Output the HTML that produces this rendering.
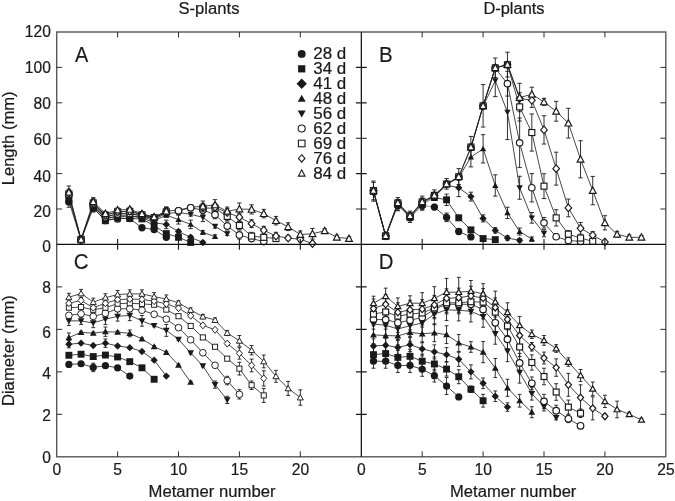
<!DOCTYPE html>
<html><head><meta charset="utf-8"><title>Metamer length and diameter</title>
<style>html,body{margin:0;padding:0;background:#fff}body{width:675px;height:501px;overflow:hidden;font-family:"Liberation Sans",sans-serif}svg{display:block;will-change:transform}</style>
</head><body>
<svg width="675" height="501" viewBox="0 0 675 501">
<rect width="675" height="501" fill="#fff"/>
<defs><clipPath id="cA"><rect x="56.7" y="32.0" width="609.1" height="427.8"/></clipPath></defs>
<g clip-path="url(#cA)">
<polyline fill="none" stroke="#1a1a1a" stroke-width="0.8" points="93.24,207.94 105.42,220.68 117.60,218.20 129.78,218.56 141.96,227.76 154.14,229.53 166.32,237.32"/>
<polyline fill="none" stroke="#1a1a1a" stroke-width="0.45" points="68.88,201.92 81.06,239.97 93.24,207.94"/>
<polyline fill="none" stroke="#1a1a1a" stroke-width="0.8" points="93.24,207.94 105.42,220.68 117.60,218.20 129.78,218.56 141.96,218.91 154.14,225.81 166.32,233.60 178.50,237.32 190.68,242.45"/>
<polyline fill="none" stroke="#1a1a1a" stroke-width="0.45" points="68.88,200.15 81.06,239.97 93.24,207.94"/>
<polyline fill="none" stroke="#1a1a1a" stroke-width="0.8" points="93.24,206.17 105.42,218.74 117.60,216.08 129.78,216.08 141.96,217.85 154.14,222.81 166.32,224.40 178.50,231.48 190.68,237.32 202.86,242.45"/>
<polyline fill="none" stroke="#1a1a1a" stroke-width="0.45" points="68.88,198.38 81.06,239.80 93.24,206.17"/>
<polyline fill="none" stroke="#1a1a1a" stroke-width="0.8" points="93.24,206.17 105.42,218.74 117.60,216.08 129.78,216.08 141.96,216.97 154.14,220.50 166.32,215.19 178.50,219.62 190.68,224.40 202.86,232.36 215.04,236.61"/>
<polyline fill="none" stroke="#1a1a1a" stroke-width="0.45" points="68.88,196.61 81.06,239.80 93.24,206.17"/>
<polyline fill="none" stroke="#1a1a1a" stroke-width="0.8" points="93.24,204.57 105.42,216.97 117.60,213.96 129.78,213.60 141.96,216.08 154.14,219.09 166.32,213.43 178.50,212.54 190.68,214.31 202.86,217.32 215.04,226.35 227.22,233.78"/>
<polyline fill="none" stroke="#1a1a1a" stroke-width="0.45" points="68.88,195.73 81.06,239.62 93.24,204.57"/>
<polyline fill="none" stroke="#1a1a1a" stroke-width="0.8" points="93.24,204.57 105.42,216.97 117.60,213.96 129.78,213.60 141.96,215.55 154.14,218.20 166.32,212.19"/>
<polyline fill="none" stroke="#1a1a1a" stroke-width="0.8" points="178.50,210.77 190.68,207.76 202.86,210.06 215.04,214.66 227.22,225.99 239.40,235.02 251.58,238.56 263.76,241.57"/>
<polyline fill="none" stroke="#1a1a1a" stroke-width="0.45" points="68.88,194.84 81.06,239.62 93.24,204.57"/>
<polyline fill="none" stroke="#1a1a1a" stroke-width="0.8" points="93.24,202.98 105.42,215.19 117.60,211.83 129.78,211.30 141.96,214.84 154.14,217.67 166.32,211.83"/>
<polyline fill="none" stroke="#1a1a1a" stroke-width="0.8" points="202.86,208.12 215.04,208.12 227.22,216.43 239.40,225.46 251.58,236.08 263.76,237.32 275.94,238.56"/>
<polyline fill="none" stroke="#1a1a1a" stroke-width="0.45" points="68.88,193.96 81.06,239.44 93.24,202.98"/>
<polyline fill="none" stroke="#1a1a1a" stroke-width="0.8" points="93.24,202.98 105.42,215.19 117.60,211.83 129.78,211.30 141.96,214.31 154.14,217.32 166.32,211.48"/>
<polyline fill="none" stroke="#1a1a1a" stroke-width="0.8" points="215.04,207.23 227.22,212.54 239.40,217.14 251.58,223.69 263.76,230.24 275.94,236.08 288.12,238.03 300.30,239.27 312.48,243.52"/>
<polyline fill="none" stroke="#1a1a1a" stroke-width="0.45" points="68.88,193.07 81.06,239.44 93.24,202.98"/>
<polyline fill="none" stroke="#1a1a1a" stroke-width="0.8" points="93.24,201.74 105.42,213.60 117.60,210.06 129.78,209.35 141.96,213.78 154.14,216.97 166.32,211.12 178.50,210.06 190.68,207.23 202.86,206.34 215.04,204.93 227.22,211.30 239.40,209.00 251.58,209.35 263.76,213.60 275.94,220.68 288.12,226.70 300.30,234.49 312.48,233.78 324.66,230.77 336.84,237.32 349.02,238.56"/>
<polyline fill="none" stroke="#1a1a1a" stroke-width="0.45" points="68.88,192.19 81.06,239.44 93.24,201.74"/>
<path fill="none" stroke="#1a1a1a" stroke-width="0.9" d="M68.88 196.61V207.23M66.68 196.61H71.08M66.68 207.23H71.08M81.06 237.85V242.10M78.86 237.85H83.26M78.86 242.10H83.26M93.24 204.04V211.83M91.04 204.04H95.44M91.04 211.83H95.44M105.42 218.56V222.81M103.22 218.56H107.62M103.22 222.81H107.62M117.60 214.31V222.10M115.40 214.31H119.80M115.40 222.10H119.80M129.78 216.43V220.68M127.58 216.43H131.98M127.58 220.68H131.98M141.96 225.99V229.53M139.76 225.99H144.16M139.76 229.53H144.16M154.14 227.76V231.30M151.94 227.76H156.34M151.94 231.30H156.34M166.32 235.55V239.09M164.12 235.55H168.52M164.12 239.09H168.52"/>
<path fill="none" stroke="#1a1a1a" stroke-width="0.9" d="M68.88 196.26V204.04M66.68 196.26H71.08M66.68 204.04H71.08M81.06 237.85V242.10M78.86 237.85H83.26M78.86 242.10H83.26M93.24 204.04V211.83M91.04 204.04H95.44M91.04 211.83H95.44M105.42 218.56V222.81M103.22 218.56H107.62M103.22 222.81H107.62M117.60 216.08V220.33M115.40 216.08H119.80M115.40 220.33H119.80M129.78 216.43V220.68M127.58 216.43H131.98M127.58 220.68H131.98M141.96 216.79V221.04M139.76 216.79H144.16M139.76 221.04H144.16M154.14 223.69V227.94M151.94 223.69H156.34M151.94 227.94H156.34M166.32 231.83V235.37M164.12 231.83H168.52M164.12 235.37H168.52M178.50 235.55V239.09M176.30 235.55H180.70M176.30 239.09H180.70M190.68 241.04V243.87M188.48 241.04H192.88M188.48 243.87H192.88"/>
<path fill="none" stroke="#1a1a1a" stroke-width="0.9" d="M68.88 194.31V202.45M66.68 194.31H71.08M66.68 202.45H71.08M81.06 237.67V241.92M78.86 237.67H83.26M78.86 241.92H83.26M93.24 202.10V210.24M91.04 202.10H95.44M91.04 210.24H95.44M105.42 216.61V220.86M103.22 216.61H107.62M103.22 220.86H107.62M117.60 213.96V218.20M115.40 213.96H119.80M115.40 218.20H119.80M129.78 213.96V218.20M127.58 213.96H131.98M127.58 218.20H131.98M141.96 215.73V219.97M139.76 215.73H144.16M139.76 219.97H144.16M154.14 220.68V224.93M151.94 220.68H156.34M151.94 224.93H156.34M166.32 220.15V228.65M164.12 220.15H168.52M164.12 228.65H168.52M178.50 229.71V233.25M176.30 229.71H180.70M176.30 233.25H180.70M190.68 235.55V239.09M188.48 235.55H192.88M188.48 239.09H192.88M202.86 241.04V243.87M200.66 241.04H205.06M200.66 243.87H205.06"/>
<path fill="none" stroke="#1a1a1a" stroke-width="0.9" d="M68.88 192.54V200.68M66.68 192.54H71.08M66.68 200.68H71.08M81.06 237.67V241.92M78.86 237.67H83.26M78.86 241.92H83.26M93.24 202.10V210.24M91.04 202.10H95.44M91.04 210.24H95.44M105.42 216.61V220.86M103.22 216.61H107.62M103.22 220.86H107.62M117.60 213.96V218.20M115.40 213.96H119.80M115.40 218.20H119.80M129.78 213.96V218.20M127.58 213.96H131.98M127.58 218.20H131.98M141.96 214.84V219.09M139.76 214.84H144.16M139.76 219.09H144.16M154.14 218.38V222.63M151.94 218.38H156.34M151.94 222.63H156.34M166.32 213.42V216.97M164.12 213.42H168.52M164.12 216.97H168.52M178.50 215.19V224.05M176.30 215.19H180.70M176.30 224.05H180.70M190.68 220.15V228.65M188.48 220.15H192.88M188.48 228.65H192.88M202.86 230.59V234.13M200.66 230.59H205.06M200.66 234.13H205.06M215.04 234.84V238.38M212.84 234.84H217.24M212.84 238.38H217.24"/>
<path fill="none" stroke="#1a1a1a" stroke-width="0.9" d="M68.88 191.65V199.80M66.68 191.65H71.08M66.68 199.80H71.08M81.06 237.50V241.75M78.86 237.50H83.26M78.86 241.75H83.26M93.24 200.50V208.65M91.04 200.50H95.44M91.04 208.65H95.44M105.42 214.84V219.09M103.22 214.84H107.62M103.22 219.09H107.62M117.60 211.83V216.08M115.40 211.83H119.80M115.40 216.08H119.80M129.78 211.48V215.73M127.58 211.48H131.98M127.58 215.73H131.98M141.96 213.96V218.20M139.76 213.96H144.16M139.76 218.20H144.16M154.14 216.97V221.21M151.94 216.97H156.34M151.94 221.21H156.34M166.32 211.66V215.20M164.12 211.66H168.52M164.12 215.20H168.52M178.50 210.77V214.31M176.30 210.77H180.70M176.30 214.31H180.70M190.68 212.54V216.08M188.48 212.54H192.88M188.48 216.08H192.88M202.86 213.07V221.57M200.66 213.07H205.06M200.66 221.57H205.06M215.04 224.58V228.12M212.84 224.58H217.24M212.84 228.12H217.24M227.22 232.01V235.55M225.02 232.01H229.42M225.02 235.55H229.42"/>
<path fill="none" stroke="#1a1a1a" stroke-width="0.9" d="M68.88 190.77V198.91M66.68 190.77H71.08M66.68 198.91H71.08M81.06 237.50V241.75M78.86 237.50H83.26M78.86 241.75H83.26M93.24 200.50V208.65M91.04 200.50H95.44M91.04 208.65H95.44M105.42 214.84V219.09M103.22 214.84H107.62M103.22 219.09H107.62M117.60 211.83V216.08M115.40 211.83H119.80M115.40 216.08H119.80M129.78 211.48V215.73M127.58 211.48H131.98M127.58 215.73H131.98M141.96 213.43V217.67M139.76 213.43H144.16M139.76 217.67H144.16M154.14 216.08V220.33M151.94 216.08H156.34M151.94 220.33H156.34M166.32 208.12V216.26M164.12 208.12H168.52M164.12 216.26H168.52M178.50 208.65V212.89M176.30 208.65H180.70M176.30 212.89H180.70M190.68 205.64V209.89M188.48 205.64H192.88M188.48 209.89H192.88M202.86 205.99V214.13M200.66 205.99H205.06M200.66 214.13H205.06M215.04 210.59V218.74M212.84 210.59H217.24M212.84 218.74H217.24M227.22 221.92V230.06M225.02 221.92H229.42M225.02 230.06H229.42M239.40 230.95V239.09M237.20 230.95H241.60M237.20 239.09H241.60M251.58 235.93V241.19M249.38 235.93H253.78M249.38 241.19H253.78M263.76 239.80V243.34M261.56 239.80H265.96M261.56 243.34H265.96"/>
<path fill="none" stroke="#1a1a1a" stroke-width="0.9" d="M68.88 190.06V197.85M66.68 190.06H71.08M66.68 197.85H71.08M81.06 237.32V241.57M78.86 237.32H83.26M78.86 241.57H83.26M93.24 199.09V206.88M91.04 199.09H95.44M91.04 206.88H95.44M105.42 213.07V217.32M103.22 213.07H107.62M103.22 217.32H107.62M117.60 209.71V213.96M115.40 209.71H119.80M115.40 213.96H119.80M129.78 209.18V213.43M127.58 209.18H131.98M127.58 213.43H131.98M141.96 212.72V216.97M139.76 212.72H144.16M139.76 216.97H144.16M154.14 215.55V219.80M151.94 215.55H156.34M151.94 219.80H156.34M166.32 207.94V215.73M164.12 207.94H168.52M164.12 215.73H168.52M202.86 204.22V212.01M200.66 204.22H205.06M200.66 212.01H205.06M215.04 204.22V212.01M212.84 204.22H217.24M212.84 212.01H217.24M227.22 212.54V220.33M225.02 212.54H229.42M225.02 220.33H229.42M239.40 221.57V229.36M237.20 221.57H241.60M237.20 229.36H241.60M251.58 232.34V239.82M249.38 232.34H253.78M249.38 239.82H253.78M263.76 234.66V239.97M261.56 234.66H265.96M261.56 239.97H265.96M275.94 235.90V241.21M273.74 235.90H278.14M273.74 241.21H278.14"/>
<path fill="none" stroke="#1a1a1a" stroke-width="0.9" d="M68.88 189.18V196.96M66.68 189.18H71.08M66.68 196.96H71.08M81.06 237.32V241.57M78.86 237.32H83.26M78.86 241.57H83.26M93.24 199.09V206.88M91.04 199.09H95.44M91.04 206.88H95.44M105.42 213.07V217.32M103.22 213.07H107.62M103.22 217.32H107.62M117.60 209.71V213.96M115.40 209.71H119.80M115.40 213.96H119.80M129.78 209.18V213.43M127.58 209.18H131.98M127.58 213.43H131.98M141.96 212.19V216.43M139.76 212.19H144.16M139.76 216.43H144.16M154.14 215.20V219.44M151.94 215.20H156.34M151.94 219.44H156.34M166.32 207.58V215.37M164.12 207.58H168.52M164.12 215.37H168.52M202.86 203.34V211.12M200.66 203.34H205.06M200.66 211.12H205.06M215.04 203.34V211.12M212.84 203.34H217.24M212.84 211.12H217.24M227.22 208.65V216.43M225.02 208.65H229.42M225.02 216.43H229.42M239.40 213.25V221.04M237.20 213.25H241.60M237.20 221.04H241.60M251.58 219.80V227.59M249.38 219.80H253.78M249.38 227.59H253.78M263.76 226.35V234.13M261.56 226.35H265.96M261.56 234.13H265.96M275.94 232.34V239.82M273.74 232.34H278.14M273.74 239.82H278.14M288.12 235.55V240.51M285.92 235.55H290.32M285.92 240.51H290.32M300.30 236.79V241.75M298.10 236.79H302.50M298.10 241.75H302.50M312.48 242.10V244.93M310.28 242.10H314.68M310.28 244.93H314.68"/>
<path fill="none" stroke="#1a1a1a" stroke-width="0.9" d="M68.88 185.99V198.38M66.68 185.99H71.08M66.68 198.38H71.08M81.06 237.32V241.57M78.86 237.32H83.26M78.86 241.57H83.26M93.24 197.67V205.81M91.04 197.67H95.44M91.04 205.81H95.44M105.42 211.48V215.73M103.22 211.48H107.62M103.22 215.73H107.62M117.60 207.94V212.19M115.40 207.94H119.80M115.40 212.19H119.80M129.78 207.23V211.48M127.58 207.23H131.98M127.58 211.48H131.98M141.96 211.66V215.90M139.76 211.66H144.16M139.76 215.90H144.16M154.14 214.84V219.09M151.94 214.84H156.34M151.94 219.09H156.34M166.32 206.88V215.37M164.12 206.88H168.52M164.12 215.37H168.52M202.86 201.03V211.66M200.66 201.03H205.06M200.66 211.66H205.06M215.04 199.62V210.24M212.84 199.62H217.24M212.84 210.24H217.24M227.22 207.05V215.55M225.02 207.05H229.42M225.02 215.55H229.42M239.40 202.98V215.02M237.20 202.98H241.60M237.20 215.02H241.60M251.58 204.75V213.96M249.38 204.75H253.78M249.38 213.96H253.78M263.76 209.35V217.85M261.56 209.35H265.96M261.56 217.85H265.96M275.94 216.43V224.93M273.74 216.43H278.14M273.74 224.93H278.14M288.12 222.81V230.59M285.92 222.81H290.32M285.92 230.59H290.32M300.30 230.95V238.03M298.10 230.95H302.50M298.10 238.03H302.50M312.48 228.47V239.09M310.28 228.47H314.68M310.28 239.09H314.68M324.66 228.65V232.90M322.46 228.65H326.86M322.46 232.90H326.86M336.84 235.20V239.44M334.64 235.20H339.04M334.64 239.44H339.04M349.02 236.79V240.33M346.82 236.79H351.22M346.82 240.33H351.22"/>
<circle cx="68.88" cy="201.92" r="3.65" fill="#1a1a1a"/>
<circle cx="81.06" cy="239.97" r="3.65" fill="#1a1a1a"/>
<circle cx="93.24" cy="207.94" r="3.65" fill="#1a1a1a"/>
<circle cx="105.42" cy="220.68" r="3.65" fill="#1a1a1a"/>
<circle cx="117.60" cy="218.20" r="3.65" fill="#1a1a1a"/>
<circle cx="129.78" cy="218.56" r="3.65" fill="#1a1a1a"/>
<circle cx="141.96" cy="227.76" r="3.65" fill="#1a1a1a"/>
<circle cx="154.14" cy="229.53" r="3.65" fill="#1a1a1a"/>
<circle cx="166.32" cy="237.32" r="3.65" fill="#1a1a1a"/>
<rect x="65.43" y="196.70" width="6.90" height="6.90" fill="#1a1a1a"/>
<rect x="77.61" y="236.53" width="6.90" height="6.90" fill="#1a1a1a"/>
<rect x="89.79" y="204.49" width="6.90" height="6.90" fill="#1a1a1a"/>
<rect x="101.97" y="217.23" width="6.90" height="6.90" fill="#1a1a1a"/>
<rect x="114.15" y="214.75" width="6.90" height="6.90" fill="#1a1a1a"/>
<rect x="126.33" y="215.11" width="6.90" height="6.90" fill="#1a1a1a"/>
<rect x="138.51" y="215.46" width="6.90" height="6.90" fill="#1a1a1a"/>
<rect x="150.69" y="222.37" width="6.90" height="6.90" fill="#1a1a1a"/>
<rect x="162.87" y="230.15" width="6.90" height="6.90" fill="#1a1a1a"/>
<rect x="175.05" y="233.87" width="6.90" height="6.90" fill="#1a1a1a"/>
<rect x="187.23" y="239.00" width="6.90" height="6.90" fill="#1a1a1a"/>
<path d="M68.88 194.68L72.51 198.38L68.88 202.08L65.25 198.38Z" fill="#1a1a1a"/>
<path d="M81.06 236.10L84.69 239.80L81.06 243.50L77.43 239.80Z" fill="#1a1a1a"/>
<path d="M93.24 202.47L96.87 206.17L93.24 209.87L89.61 206.17Z" fill="#1a1a1a"/>
<path d="M105.42 215.04L109.05 218.74L105.42 222.44L101.79 218.74Z" fill="#1a1a1a"/>
<path d="M117.60 212.38L121.23 216.08L117.60 219.78L113.97 216.08Z" fill="#1a1a1a"/>
<path d="M129.78 212.38L133.41 216.08L129.78 219.78L126.15 216.08Z" fill="#1a1a1a"/>
<path d="M141.96 214.15L145.59 217.85L141.96 221.55L138.33 217.85Z" fill="#1a1a1a"/>
<path d="M154.14 219.11L157.77 222.81L154.14 226.51L150.51 222.81Z" fill="#1a1a1a"/>
<path d="M166.32 220.70L169.95 224.40L166.32 228.10L162.69 224.40Z" fill="#1a1a1a"/>
<path d="M178.50 227.78L182.13 231.48L178.50 235.18L174.87 231.48Z" fill="#1a1a1a"/>
<path d="M190.68 233.62L194.31 237.32L190.68 241.02L187.05 237.32Z" fill="#1a1a1a"/>
<path d="M202.86 238.75L206.49 242.45L202.86 246.15L199.23 242.45Z" fill="#1a1a1a"/>
<path d="M68.88 193.52L72.03 199.05L65.73 199.05Z" fill="#1a1a1a"/>
<path d="M81.06 236.71L84.21 242.24L77.91 242.24Z" fill="#1a1a1a"/>
<path d="M93.24 203.08L96.39 208.61L90.09 208.61Z" fill="#1a1a1a"/>
<path d="M105.42 215.65L108.57 221.17L102.27 221.17Z" fill="#1a1a1a"/>
<path d="M117.60 212.99L120.75 218.52L114.45 218.52Z" fill="#1a1a1a"/>
<path d="M129.78 212.99L132.93 218.52L126.63 218.52Z" fill="#1a1a1a"/>
<path d="M141.96 213.88L145.11 219.40L138.81 219.40Z" fill="#1a1a1a"/>
<path d="M154.14 217.42L157.29 222.94L150.99 222.94Z" fill="#1a1a1a"/>
<path d="M166.32 212.11L169.47 217.63L163.17 217.63Z" fill="#1a1a1a"/>
<path d="M178.50 216.53L181.65 222.06L175.35 222.06Z" fill="#1a1a1a"/>
<path d="M190.68 221.31L193.83 226.84L187.53 226.84Z" fill="#1a1a1a"/>
<path d="M202.86 229.28L206.01 234.80L199.71 234.80Z" fill="#1a1a1a"/>
<path d="M215.04 233.52L218.19 239.05L211.89 239.05Z" fill="#1a1a1a"/>
<path d="M68.88 198.86L72.08 193.25L65.68 193.25Z" fill="#1a1a1a"/>
<path d="M81.06 242.76L84.26 237.15L77.86 237.15Z" fill="#1a1a1a"/>
<path d="M93.24 207.71L96.44 202.10L90.04 202.10Z" fill="#1a1a1a"/>
<path d="M105.42 220.10L108.62 214.49L102.22 214.49Z" fill="#1a1a1a"/>
<path d="M117.60 217.09L120.80 211.48L114.40 211.48Z" fill="#1a1a1a"/>
<path d="M129.78 216.74L132.98 211.13L126.58 211.13Z" fill="#1a1a1a"/>
<path d="M141.96 219.22L145.16 213.61L138.76 213.61Z" fill="#1a1a1a"/>
<path d="M154.14 222.22L157.34 216.61L150.94 216.61Z" fill="#1a1a1a"/>
<path d="M166.32 216.56L169.52 210.95L163.12 210.95Z" fill="#1a1a1a"/>
<path d="M178.50 215.68L181.70 210.07L175.30 210.07Z" fill="#1a1a1a"/>
<path d="M190.68 217.44L193.88 211.84L187.48 211.84Z" fill="#1a1a1a"/>
<path d="M202.86 220.45L206.06 214.84L199.66 214.84Z" fill="#1a1a1a"/>
<path d="M215.04 229.48L218.24 223.87L211.84 223.87Z" fill="#1a1a1a"/>
<path d="M227.22 236.91L230.42 231.31L224.02 231.31Z" fill="#1a1a1a"/>
<circle cx="68.88" cy="194.84" r="3.25" fill="#fff" stroke="#1a1a1a" stroke-width="1.15"/>
<circle cx="81.06" cy="239.62" r="3.25" fill="#fff" stroke="#1a1a1a" stroke-width="1.15"/>
<circle cx="93.24" cy="204.57" r="3.25" fill="#fff" stroke="#1a1a1a" stroke-width="1.15"/>
<circle cx="105.42" cy="216.97" r="3.25" fill="#fff" stroke="#1a1a1a" stroke-width="1.15"/>
<circle cx="117.60" cy="213.96" r="3.25" fill="#fff" stroke="#1a1a1a" stroke-width="1.15"/>
<circle cx="129.78" cy="213.60" r="3.25" fill="#fff" stroke="#1a1a1a" stroke-width="1.15"/>
<circle cx="141.96" cy="215.55" r="3.25" fill="#fff" stroke="#1a1a1a" stroke-width="1.15"/>
<circle cx="154.14" cy="218.20" r="3.25" fill="#fff" stroke="#1a1a1a" stroke-width="1.15"/>
<circle cx="166.32" cy="212.19" r="3.25" fill="#fff" stroke="#1a1a1a" stroke-width="1.15"/>
<circle cx="178.50" cy="210.77" r="3.25" fill="#fff" stroke="#1a1a1a" stroke-width="1.15"/>
<circle cx="190.68" cy="207.76" r="3.25" fill="#fff" stroke="#1a1a1a" stroke-width="1.15"/>
<circle cx="202.86" cy="210.06" r="3.25" fill="#fff" stroke="#1a1a1a" stroke-width="1.15"/>
<circle cx="215.04" cy="214.66" r="3.25" fill="#fff" stroke="#1a1a1a" stroke-width="1.15"/>
<circle cx="227.22" cy="225.99" r="3.25" fill="#fff" stroke="#1a1a1a" stroke-width="1.15"/>
<circle cx="239.40" cy="235.02" r="3.25" fill="#fff" stroke="#1a1a1a" stroke-width="1.15"/>
<circle cx="251.58" cy="238.56" r="3.25" fill="#fff" stroke="#1a1a1a" stroke-width="1.15"/>
<circle cx="263.76" cy="241.57" r="3.25" fill="#fff" stroke="#1a1a1a" stroke-width="1.15"/>
<rect x="65.88" y="190.96" width="6.00" height="6.00" fill="#fff" stroke="#1a1a1a" stroke-width="1.15"/>
<rect x="78.06" y="236.44" width="6.00" height="6.00" fill="#fff" stroke="#1a1a1a" stroke-width="1.15"/>
<rect x="90.24" y="199.98" width="6.00" height="6.00" fill="#fff" stroke="#1a1a1a" stroke-width="1.15"/>
<rect x="102.42" y="212.19" width="6.00" height="6.00" fill="#fff" stroke="#1a1a1a" stroke-width="1.15"/>
<rect x="114.60" y="208.83" width="6.00" height="6.00" fill="#fff" stroke="#1a1a1a" stroke-width="1.15"/>
<rect x="126.78" y="208.30" width="6.00" height="6.00" fill="#fff" stroke="#1a1a1a" stroke-width="1.15"/>
<rect x="138.96" y="211.84" width="6.00" height="6.00" fill="#fff" stroke="#1a1a1a" stroke-width="1.15"/>
<rect x="151.14" y="214.67" width="6.00" height="6.00" fill="#fff" stroke="#1a1a1a" stroke-width="1.15"/>
<rect x="163.32" y="208.83" width="6.00" height="6.00" fill="#fff" stroke="#1a1a1a" stroke-width="1.15"/>
<rect x="199.86" y="205.12" width="6.00" height="6.00" fill="#fff" stroke="#1a1a1a" stroke-width="1.15"/>
<rect x="212.04" y="205.12" width="6.00" height="6.00" fill="#fff" stroke="#1a1a1a" stroke-width="1.15"/>
<rect x="224.22" y="213.43" width="6.00" height="6.00" fill="#fff" stroke="#1a1a1a" stroke-width="1.15"/>
<rect x="236.40" y="222.46" width="6.00" height="6.00" fill="#fff" stroke="#1a1a1a" stroke-width="1.15"/>
<rect x="248.58" y="233.08" width="6.00" height="6.00" fill="#fff" stroke="#1a1a1a" stroke-width="1.15"/>
<rect x="260.76" y="234.32" width="6.00" height="6.00" fill="#fff" stroke="#1a1a1a" stroke-width="1.15"/>
<rect x="272.94" y="235.56" width="6.00" height="6.00" fill="#fff" stroke="#1a1a1a" stroke-width="1.15"/>
<path d="M68.88 189.27L72.22 193.07L68.88 196.87L65.54 193.07Z" fill="#fff" stroke="#1a1a1a" stroke-width="1.15"/>
<path d="M81.06 235.64L84.40 239.44L81.06 243.24L77.72 239.44Z" fill="#fff" stroke="#1a1a1a" stroke-width="1.15"/>
<path d="M93.24 199.18L96.58 202.98L93.24 206.78L89.90 202.98Z" fill="#fff" stroke="#1a1a1a" stroke-width="1.15"/>
<path d="M105.42 211.39L108.76 215.19L105.42 219.00L102.08 215.19Z" fill="#fff" stroke="#1a1a1a" stroke-width="1.15"/>
<path d="M117.60 208.03L120.94 211.83L117.60 215.63L114.26 211.83Z" fill="#fff" stroke="#1a1a1a" stroke-width="1.15"/>
<path d="M129.78 207.50L133.12 211.30L129.78 215.10L126.44 211.30Z" fill="#fff" stroke="#1a1a1a" stroke-width="1.15"/>
<path d="M141.96 210.51L145.30 214.31L141.96 218.11L138.62 214.31Z" fill="#fff" stroke="#1a1a1a" stroke-width="1.15"/>
<path d="M154.14 213.52L157.48 217.32L154.14 221.12L150.80 217.32Z" fill="#fff" stroke="#1a1a1a" stroke-width="1.15"/>
<path d="M166.32 207.68L169.66 211.48L166.32 215.28L162.98 211.48Z" fill="#fff" stroke="#1a1a1a" stroke-width="1.15"/>
<path d="M202.86 203.43L206.20 207.23L202.86 211.03L199.52 207.23Z" fill="#fff" stroke="#1a1a1a" stroke-width="1.15"/>
<path d="M215.04 203.43L218.38 207.23L215.04 211.03L211.70 207.23Z" fill="#fff" stroke="#1a1a1a" stroke-width="1.15"/>
<path d="M227.22 208.74L230.56 212.54L227.22 216.34L223.88 212.54Z" fill="#fff" stroke="#1a1a1a" stroke-width="1.15"/>
<path d="M239.40 213.34L242.74 217.14L239.40 220.94L236.06 217.14Z" fill="#fff" stroke="#1a1a1a" stroke-width="1.15"/>
<path d="M251.58 219.89L254.92 223.69L251.58 227.49L248.24 223.69Z" fill="#fff" stroke="#1a1a1a" stroke-width="1.15"/>
<path d="M263.76 226.44L267.10 230.24L263.76 234.04L260.42 230.24Z" fill="#fff" stroke="#1a1a1a" stroke-width="1.15"/>
<path d="M275.94 232.28L279.28 236.08L275.94 239.88L272.60 236.08Z" fill="#fff" stroke="#1a1a1a" stroke-width="1.15"/>
<path d="M288.12 234.23L291.46 238.03L288.12 241.83L284.78 238.03Z" fill="#fff" stroke="#1a1a1a" stroke-width="1.15"/>
<path d="M300.30 235.47L303.64 239.27L300.30 243.07L296.96 239.27Z" fill="#fff" stroke="#1a1a1a" stroke-width="1.15"/>
<path d="M312.48 239.72L315.82 243.52L312.48 247.32L309.14 243.52Z" fill="#fff" stroke="#1a1a1a" stroke-width="1.15"/>
<path d="M68.88 188.63L72.28 195.03L65.48 195.03Z" fill="#fff" stroke="#1a1a1a" stroke-width="1.15"/>
<path d="M81.06 235.89L84.46 242.29L77.66 242.29Z" fill="#fff" stroke="#1a1a1a" stroke-width="1.15"/>
<path d="M93.24 198.19L96.64 204.59L89.84 204.59Z" fill="#fff" stroke="#1a1a1a" stroke-width="1.15"/>
<path d="M105.42 210.05L108.82 216.45L102.02 216.45Z" fill="#fff" stroke="#1a1a1a" stroke-width="1.15"/>
<path d="M117.60 206.51L121.00 212.91L114.20 212.91Z" fill="#fff" stroke="#1a1a1a" stroke-width="1.15"/>
<path d="M129.78 205.80L133.18 212.20L126.38 212.20Z" fill="#fff" stroke="#1a1a1a" stroke-width="1.15"/>
<path d="M141.96 210.23L145.36 216.63L138.56 216.63Z" fill="#fff" stroke="#1a1a1a" stroke-width="1.15"/>
<path d="M154.14 213.41L157.54 219.81L150.74 219.81Z" fill="#fff" stroke="#1a1a1a" stroke-width="1.15"/>
<path d="M166.32 207.57L169.72 213.97L162.92 213.97Z" fill="#fff" stroke="#1a1a1a" stroke-width="1.15"/>
<path d="M202.86 202.79L206.26 209.19L199.46 209.19Z" fill="#fff" stroke="#1a1a1a" stroke-width="1.15"/>
<path d="M215.04 201.38L218.44 207.78L211.64 207.78Z" fill="#fff" stroke="#1a1a1a" stroke-width="1.15"/>
<path d="M227.22 207.75L230.62 214.15L223.82 214.15Z" fill="#fff" stroke="#1a1a1a" stroke-width="1.15"/>
<path d="M239.40 205.45L242.80 211.85L236.00 211.85Z" fill="#fff" stroke="#1a1a1a" stroke-width="1.15"/>
<path d="M251.58 205.80L254.98 212.20L248.18 212.20Z" fill="#fff" stroke="#1a1a1a" stroke-width="1.15"/>
<path d="M263.76 210.05L267.16 216.45L260.36 216.45Z" fill="#fff" stroke="#1a1a1a" stroke-width="1.15"/>
<path d="M275.94 217.13L279.34 223.53L272.54 223.53Z" fill="#fff" stroke="#1a1a1a" stroke-width="1.15"/>
<path d="M288.12 223.15L291.52 229.55L284.72 229.55Z" fill="#fff" stroke="#1a1a1a" stroke-width="1.15"/>
<path d="M300.30 230.94L303.70 237.34L296.90 237.34Z" fill="#fff" stroke="#1a1a1a" stroke-width="1.15"/>
<path d="M312.48 230.23L315.88 236.63L309.08 236.63Z" fill="#fff" stroke="#1a1a1a" stroke-width="1.15"/>
<path d="M324.66 227.22L328.06 233.62L321.26 233.62Z" fill="#fff" stroke="#1a1a1a" stroke-width="1.15"/>
<path d="M336.84 233.77L340.24 240.17L333.44 240.17Z" fill="#fff" stroke="#1a1a1a" stroke-width="1.15"/>
<path d="M349.02 235.01L352.42 241.41L345.62 241.41Z" fill="#fff" stroke="#1a1a1a" stroke-width="1.15"/>
<circle cx="178.50" cy="210.77" r="3.25" fill="#fff" stroke="#1a1a1a" stroke-width="1.15"/>
<circle cx="190.68" cy="207.76" r="3.25" fill="#fff" stroke="#1a1a1a" stroke-width="1.15"/>
</g>
<g clip-path="url(#cA)">
<polyline fill="none" stroke="#1a1a1a" stroke-width="0.8" points="434.38,207.05 446.56,217.32 458.74,231.48 470.92,236.97"/>
<polyline fill="none" stroke="#1a1a1a" stroke-width="0.42" points="373.48,191.83 385.66,236.44 397.84,205.46 410.02,217.85 422.20,205.46 434.38,207.05"/>
<polyline fill="none" stroke="#1a1a1a" stroke-width="0.8" points="434.38,197.50 446.56,199.80 458.74,217.85 470.92,229.89 483.10,238.56 495.28,239.62"/>
<polyline fill="none" stroke="#1a1a1a" stroke-width="0.42" points="373.48,191.48 385.66,236.26 397.84,204.75 410.02,217.32 422.20,204.57 434.38,197.50"/>
<polyline fill="none" stroke="#1a1a1a" stroke-width="0.8" points="434.38,196.61 446.56,185.11 458.74,187.76 470.92,196.61 483.10,218.38 495.28,230.42 507.46,238.03 519.64,240.33"/>
<polyline fill="none" stroke="#1a1a1a" stroke-width="0.42" points="373.48,191.12 385.66,236.08 397.84,204.04 410.02,216.79 422.20,203.69 434.38,196.61"/>
<polyline fill="none" stroke="#1a1a1a" stroke-width="0.8" points="434.38,196.08 446.56,184.57 458.74,177.49 470.92,157.14 483.10,148.82 495.28,185.46 507.46,212.89 519.64,231.48 531.82,239.09"/>
<polyline fill="none" stroke="#1a1a1a" stroke-width="0.42" points="373.48,190.95 385.66,236.08 397.84,203.69 410.02,216.43 422.20,202.98 434.38,196.08"/>
<polyline fill="none" stroke="#1a1a1a" stroke-width="0.8" points="434.38,195.73 446.56,184.22 458.74,177.14 470.92,147.76 483.10,106.34 495.28,80.68 507.46,112.18 519.64,187.76 531.82,217.85 544.00,233.25"/>
<polyline fill="none" stroke="#1a1a1a" stroke-width="0.42" points="373.48,190.77 385.66,235.90 397.84,203.34 410.02,216.08 422.20,202.45 434.38,195.73"/>
<polyline fill="none" stroke="#1a1a1a" stroke-width="0.8" points="470.92,147.40 483.10,105.99 495.28,68.28 507.46,83.68 519.64,142.80 531.82,187.76 544.00,222.81 556.18,236.79 568.36,240.51 580.54,241.39"/>
<polyline fill="none" stroke="#1a1a1a" stroke-width="0.42" points="373.48,190.77 385.66,235.90 397.84,203.16 410.02,216.08 422.20,202.10 434.38,195.55"/>
<polyline fill="none" stroke="#1a1a1a" stroke-width="0.8" points="483.10,105.81 495.28,67.93 507.46,64.75 519.64,106.87 531.82,132.54 544.00,186.17 556.18,217.85 568.36,234.13 580.54,238.03 592.72,241.39"/>
<polyline fill="none" stroke="#1a1a1a" stroke-width="0.42" points="373.48,190.59 385.66,235.90 397.84,202.98 410.02,215.90 422.20,201.92 434.38,195.37"/>
<polyline fill="none" stroke="#1a1a1a" stroke-width="0.8" points="495.28,67.93 507.46,64.75 519.64,98.38 531.82,100.32 544.00,129.88 556.18,168.64 568.36,207.94 580.54,228.29 592.72,235.20 604.90,241.92"/>
<polyline fill="none" stroke="#1a1a1a" stroke-width="0.42" points="373.48,190.59 385.66,235.73 397.84,202.98 410.02,215.90 422.20,201.92 434.38,195.37"/>
<polyline fill="none" stroke="#1a1a1a" stroke-width="0.8" points="434.38,195.19 446.56,183.87 458.74,176.61 470.92,147.05 483.10,105.81 495.28,67.75 507.46,64.57 519.64,97.49 531.82,94.30 544.00,101.91 556.18,111.30 568.36,123.16 580.54,159.26 592.72,190.59 604.90,222.81 617.08,234.31 629.26,237.32 641.44,237.32"/>
<polyline fill="none" stroke="#1a1a1a" stroke-width="0.42" points="373.48,190.42 385.66,235.73 397.84,202.81 410.02,215.73 422.20,201.74 434.38,195.19"/>
<path fill="none" stroke="#1a1a1a" stroke-width="0.9" d="M373.48 182.45V201.21M371.28 182.45H375.68M371.28 201.21H375.68M385.66 233.78V239.09M383.46 233.78H387.86M383.46 239.09H387.86M397.84 200.15V210.77M395.64 200.15H400.04M395.64 210.77H400.04M410.02 213.25V222.45M407.82 213.25H412.22M407.82 222.45H412.22M434.38 204.40V209.71M432.18 204.40H436.58M432.18 209.71H436.58M446.56 213.07V221.57M444.36 213.07H448.76M444.36 221.57H448.76M458.74 229.00V233.96M456.54 229.00H460.94M456.54 233.96H460.94M470.92 235.20V238.74M468.72 235.20H473.12M468.72 238.74H473.12"/>
<path fill="none" stroke="#1a1a1a" stroke-width="0.9" d="M397.84 199.44V210.06M395.64 199.44H400.04M395.64 210.06H400.04M422.20 198.91V210.24M420.00 198.91H424.40M420.00 210.24H424.40M446.56 194.13V205.46M444.36 194.13H448.76M444.36 205.46H448.76M458.74 215.19V220.50M456.54 215.19H460.94M456.54 220.50H460.94M470.92 227.41V232.36M468.72 227.41H473.12M468.72 232.36H473.12M483.10 236.44V240.68M480.90 236.44H485.30M480.90 240.68H485.30M495.28 237.50V241.75M493.08 237.50H497.48M493.08 241.75H497.48"/>
<path fill="none" stroke="#1a1a1a" stroke-width="0.9" d="M422.20 198.03V209.35M420.00 198.03H424.40M420.00 209.35H424.40M458.74 178.91V196.61M456.54 178.91H460.94M456.54 196.61H460.94M470.92 192.19V201.04M468.72 192.19H473.12M468.72 201.04H473.12M483.10 214.84V221.92M480.90 214.84H485.30M480.90 221.92H485.30M495.28 227.76V233.07M493.08 227.76H497.48M493.08 233.07H497.48M507.46 235.90V240.15M505.26 235.90H509.66M505.26 240.15H509.66M519.64 238.56V242.10M517.44 238.56H521.84M517.44 242.10H521.84"/>
<path fill="none" stroke="#1a1a1a" stroke-width="0.9" d="M470.92 147.40V166.87M468.72 147.40H473.12M468.72 166.87H473.12M483.10 134.66V162.98M480.90 134.66H485.30M480.90 162.98H485.30M495.28 174.84V196.08M493.08 174.84H497.48M493.08 196.08H497.48M507.46 207.23V218.56M505.26 207.23H509.66M505.26 218.56H509.66M519.64 227.94V235.02M517.44 227.94H521.84M517.44 235.02H521.84M531.82 236.97V241.21M529.62 236.97H534.02M529.62 241.21H534.02"/>
<path fill="none" stroke="#1a1a1a" stroke-width="0.9" d="M495.28 64.75V96.61M493.08 64.75H497.48M493.08 96.61H497.48M507.46 84.75V139.62M505.26 84.75H509.66M505.26 139.62H509.66M519.64 176.25V199.26M517.44 176.25H521.84M517.44 199.26H521.84M531.82 212.54V223.16M529.62 212.54H534.02M529.62 223.16H534.02M544.00 229.71V236.79M541.80 229.71H546.20M541.80 236.79H546.20"/>
<path fill="none" stroke="#1a1a1a" stroke-width="0.9" d="M507.46 71.29V96.07M505.26 71.29H509.66M505.26 96.07H509.66M519.64 118.02V167.58M517.44 118.02H521.84M517.44 167.58H521.84M531.82 173.60V201.92M529.62 173.60H534.02M529.62 201.92H534.02M544.00 217.50V228.12M541.80 217.50H546.20M541.80 228.12H546.20M556.18 234.13V239.44M553.98 234.13H558.38M553.98 239.44H558.38M568.36 238.74V242.28M566.16 238.74H570.56M566.16 242.28H570.56M580.54 239.98V242.81M578.34 239.98H582.74M578.34 242.81H582.74"/>
<path fill="none" stroke="#1a1a1a" stroke-width="0.9" d="M519.64 92.71V121.03M517.44 92.71H521.84M517.44 121.03H521.84M531.82 113.95V151.12M529.62 113.95H534.02M529.62 151.12H534.02M544.00 173.78V198.56M541.80 173.78H546.20M541.80 198.56H546.20M556.18 209.71V225.99M553.98 209.71H558.38M553.98 225.99H558.38M568.36 230.59V237.67M566.16 230.59H570.56M566.16 237.67H570.56M580.54 235.73V240.33M578.34 235.73H582.74M578.34 240.33H582.74M592.72 239.62V243.16M590.52 239.62H594.92M590.52 243.16H594.92"/>
<path fill="none" stroke="#1a1a1a" stroke-width="0.9" d="M531.82 93.24V107.40M529.62 93.24H534.02M529.62 107.40H534.02M544.00 115.72V144.04M541.80 115.72H546.20M541.80 144.04H546.20M556.18 152.18V185.11M553.98 152.18H558.38M553.98 185.11H558.38M568.36 199.09V216.79M566.16 199.09H570.56M566.16 216.79H570.56M580.54 222.45V234.13M578.34 222.45H582.74M578.34 234.13H582.74M592.72 231.66V238.74M590.52 231.66H594.92M590.52 238.74H594.92M604.90 240.15V243.69M602.70 240.15H607.10M602.70 243.69H607.10"/>
<path fill="none" stroke="#1a1a1a" stroke-width="0.9" d="M373.48 181.03V199.80M371.28 181.03H375.68M371.28 199.80H375.68M385.66 233.07V238.38M383.46 233.07H387.86M383.46 238.38H387.86M397.84 197.50V208.12M395.64 197.50H400.04M395.64 208.12H400.04M410.02 211.12V220.33M407.82 211.12H412.22M407.82 220.33H412.22M422.20 196.08V207.41M420.00 196.08H424.40M420.00 207.41H424.40M434.38 189.88V200.50M432.18 189.88H436.58M432.18 200.50H436.58M446.56 178.56V189.18M444.36 178.56H448.76M444.36 189.18H448.76M458.74 168.64V184.57M456.54 168.64H460.94M456.54 184.57H460.94M470.92 136.43V157.67M468.72 136.43H473.12M468.72 157.67H473.12M483.10 84.57V127.05M480.90 84.57H485.30M480.90 127.05H485.30M495.28 58.02V77.49M493.08 58.02H497.48M493.08 77.49H497.48M507.46 52.18V76.96M505.26 52.18H509.66M505.26 76.96H509.66M519.64 83.33V111.65M517.44 83.33H521.84M517.44 111.65H521.84M531.82 87.22V101.38M529.62 87.22H534.02M529.62 101.38H534.02M544.00 98.37V105.45M541.80 98.37H546.20M541.80 105.45H546.20M556.18 101.38V121.21M553.98 101.38H558.38M553.98 121.21H558.38M568.36 108.29V138.02M566.16 108.29H570.56M566.16 138.02H570.56M580.54 140.68V177.85M578.34 140.68H582.74M578.34 177.85H582.74M592.72 176.43V204.75M590.52 176.43H594.92M590.52 204.75H594.92M604.90 215.73V229.89M602.70 215.73H607.10M602.70 229.89H607.10M617.08 231.66V236.97M614.88 231.66H619.28M614.88 236.97H619.28M629.26 235.02V239.62M627.06 235.02H631.46M627.06 239.62H631.46M641.44 235.55V239.09M639.24 235.55H643.64M639.24 239.09H643.64"/>
<circle cx="373.48" cy="191.83" r="3.65" fill="#1a1a1a"/>
<circle cx="385.66" cy="236.44" r="3.65" fill="#1a1a1a"/>
<circle cx="397.84" cy="205.46" r="3.65" fill="#1a1a1a"/>
<circle cx="410.02" cy="217.85" r="3.65" fill="#1a1a1a"/>
<circle cx="422.20" cy="205.46" r="3.65" fill="#1a1a1a"/>
<circle cx="434.38" cy="207.05" r="3.65" fill="#1a1a1a"/>
<circle cx="446.56" cy="217.32" r="3.65" fill="#1a1a1a"/>
<circle cx="458.74" cy="231.48" r="3.65" fill="#1a1a1a"/>
<circle cx="470.92" cy="236.97" r="3.65" fill="#1a1a1a"/>
<rect x="370.03" y="188.03" width="6.90" height="6.90" fill="#1a1a1a"/>
<rect x="382.21" y="232.81" width="6.90" height="6.90" fill="#1a1a1a"/>
<rect x="394.39" y="201.30" width="6.90" height="6.90" fill="#1a1a1a"/>
<rect x="406.57" y="213.87" width="6.90" height="6.90" fill="#1a1a1a"/>
<rect x="418.75" y="201.12" width="6.90" height="6.90" fill="#1a1a1a"/>
<rect x="430.93" y="194.05" width="6.90" height="6.90" fill="#1a1a1a"/>
<rect x="443.11" y="196.35" width="6.90" height="6.90" fill="#1a1a1a"/>
<rect x="455.29" y="214.40" width="6.90" height="6.90" fill="#1a1a1a"/>
<rect x="467.47" y="226.44" width="6.90" height="6.90" fill="#1a1a1a"/>
<rect x="479.65" y="235.11" width="6.90" height="6.90" fill="#1a1a1a"/>
<rect x="491.83" y="236.17" width="6.90" height="6.90" fill="#1a1a1a"/>
<path d="M373.48 187.42L377.11 191.12L373.48 194.82L369.85 191.12Z" fill="#1a1a1a"/>
<path d="M385.66 232.38L389.29 236.08L385.66 239.78L382.03 236.08Z" fill="#1a1a1a"/>
<path d="M397.84 200.34L401.47 204.04L397.84 207.74L394.21 204.04Z" fill="#1a1a1a"/>
<path d="M410.02 213.09L413.65 216.79L410.02 220.49L406.39 216.79Z" fill="#1a1a1a"/>
<path d="M422.20 199.99L425.83 203.69L422.20 207.39L418.57 203.69Z" fill="#1a1a1a"/>
<path d="M434.38 192.91L438.01 196.61L434.38 200.31L430.75 196.61Z" fill="#1a1a1a"/>
<path d="M446.56 181.41L450.19 185.11L446.56 188.81L442.93 185.11Z" fill="#1a1a1a"/>
<path d="M458.74 184.06L462.37 187.76L458.74 191.46L455.11 187.76Z" fill="#1a1a1a"/>
<path d="M470.92 192.91L474.55 196.61L470.92 200.31L467.29 196.61Z" fill="#1a1a1a"/>
<path d="M483.10 214.68L486.73 218.38L483.10 222.08L479.47 218.38Z" fill="#1a1a1a"/>
<path d="M495.28 226.72L498.91 230.42L495.28 234.12L491.65 230.42Z" fill="#1a1a1a"/>
<path d="M507.46 234.33L511.09 238.03L507.46 241.73L503.83 238.03Z" fill="#1a1a1a"/>
<path d="M519.64 236.63L523.27 240.33L519.64 244.03L516.01 240.33Z" fill="#1a1a1a"/>
<path d="M373.48 187.86L376.63 193.38L370.33 193.38Z" fill="#1a1a1a"/>
<path d="M385.66 232.99L388.81 238.52L382.51 238.52Z" fill="#1a1a1a"/>
<path d="M397.84 200.60L400.99 206.13L394.69 206.13Z" fill="#1a1a1a"/>
<path d="M410.02 213.35L413.17 218.87L406.87 218.87Z" fill="#1a1a1a"/>
<path d="M422.20 199.89L425.35 205.42L419.05 205.42Z" fill="#1a1a1a"/>
<path d="M434.38 192.99L437.53 198.52L431.23 198.52Z" fill="#1a1a1a"/>
<path d="M446.56 181.49L449.71 187.01L443.41 187.01Z" fill="#1a1a1a"/>
<path d="M458.74 174.41L461.89 179.93L455.59 179.93Z" fill="#1a1a1a"/>
<path d="M470.92 154.05L474.07 159.58L467.77 159.58Z" fill="#1a1a1a"/>
<path d="M483.10 145.73L486.25 151.26L479.95 151.26Z" fill="#1a1a1a"/>
<path d="M495.28 182.37L498.43 187.90L492.13 187.90Z" fill="#1a1a1a"/>
<path d="M507.46 209.81L510.61 215.33L504.31 215.33Z" fill="#1a1a1a"/>
<path d="M519.64 228.39L522.79 233.92L516.49 233.92Z" fill="#1a1a1a"/>
<path d="M531.82 236.00L534.97 241.53L528.67 241.53Z" fill="#1a1a1a"/>
<path d="M373.48 193.90L376.68 188.29L370.28 188.29Z" fill="#1a1a1a"/>
<path d="M385.66 239.04L388.86 233.43L382.46 233.43Z" fill="#1a1a1a"/>
<path d="M397.84 206.47L401.04 200.86L394.64 200.86Z" fill="#1a1a1a"/>
<path d="M410.02 219.22L413.22 213.61L406.82 213.61Z" fill="#1a1a1a"/>
<path d="M422.20 205.59L425.40 199.98L419.00 199.98Z" fill="#1a1a1a"/>
<path d="M434.38 198.86L437.58 193.25L431.18 193.25Z" fill="#1a1a1a"/>
<path d="M446.56 187.35L449.76 181.75L443.36 181.75Z" fill="#1a1a1a"/>
<path d="M458.74 180.27L461.94 174.66L455.54 174.66Z" fill="#1a1a1a"/>
<path d="M470.92 150.89L474.12 145.28L467.72 145.28Z" fill="#1a1a1a"/>
<path d="M483.10 109.48L486.30 103.87L479.90 103.87Z" fill="#1a1a1a"/>
<path d="M495.28 83.81L498.48 78.20L492.08 78.20Z" fill="#1a1a1a"/>
<path d="M507.46 115.32L510.66 109.71L504.26 109.71Z" fill="#1a1a1a"/>
<path d="M519.64 190.89L522.84 185.28L516.44 185.28Z" fill="#1a1a1a"/>
<path d="M531.82 220.98L535.02 215.38L528.62 215.38Z" fill="#1a1a1a"/>
<path d="M544.00 236.38L547.20 230.77L540.80 230.77Z" fill="#1a1a1a"/>
<circle cx="373.48" cy="190.77" r="3.25" fill="#fff" stroke="#1a1a1a" stroke-width="1.15"/>
<circle cx="385.66" cy="235.90" r="3.25" fill="#fff" stroke="#1a1a1a" stroke-width="1.15"/>
<circle cx="397.84" cy="203.16" r="3.25" fill="#fff" stroke="#1a1a1a" stroke-width="1.15"/>
<circle cx="410.02" cy="216.08" r="3.25" fill="#fff" stroke="#1a1a1a" stroke-width="1.15"/>
<circle cx="422.20" cy="202.10" r="3.25" fill="#fff" stroke="#1a1a1a" stroke-width="1.15"/>
<circle cx="434.38" cy="195.55" r="3.25" fill="#fff" stroke="#1a1a1a" stroke-width="1.15"/>
<circle cx="446.56" cy="184.04" r="3.25" fill="#fff" stroke="#1a1a1a" stroke-width="1.15"/>
<circle cx="458.74" cy="176.96" r="3.25" fill="#fff" stroke="#1a1a1a" stroke-width="1.15"/>
<circle cx="470.92" cy="147.40" r="3.25" fill="#fff" stroke="#1a1a1a" stroke-width="1.15"/>
<circle cx="483.10" cy="105.99" r="3.25" fill="#fff" stroke="#1a1a1a" stroke-width="1.15"/>
<circle cx="495.28" cy="68.28" r="3.25" fill="#fff" stroke="#1a1a1a" stroke-width="1.15"/>
<circle cx="507.46" cy="83.68" r="3.25" fill="#fff" stroke="#1a1a1a" stroke-width="1.15"/>
<circle cx="519.64" cy="142.80" r="3.25" fill="#fff" stroke="#1a1a1a" stroke-width="1.15"/>
<circle cx="531.82" cy="187.76" r="3.25" fill="#fff" stroke="#1a1a1a" stroke-width="1.15"/>
<circle cx="544.00" cy="222.81" r="3.25" fill="#fff" stroke="#1a1a1a" stroke-width="1.15"/>
<circle cx="556.18" cy="236.79" r="3.25" fill="#fff" stroke="#1a1a1a" stroke-width="1.15"/>
<circle cx="568.36" cy="240.51" r="3.25" fill="#fff" stroke="#1a1a1a" stroke-width="1.15"/>
<circle cx="580.54" cy="241.39" r="3.25" fill="#fff" stroke="#1a1a1a" stroke-width="1.15"/>
<rect x="370.48" y="187.59" width="6.00" height="6.00" fill="#fff" stroke="#1a1a1a" stroke-width="1.15"/>
<rect x="382.66" y="232.90" width="6.00" height="6.00" fill="#fff" stroke="#1a1a1a" stroke-width="1.15"/>
<rect x="394.84" y="199.98" width="6.00" height="6.00" fill="#fff" stroke="#1a1a1a" stroke-width="1.15"/>
<rect x="407.02" y="212.90" width="6.00" height="6.00" fill="#fff" stroke="#1a1a1a" stroke-width="1.15"/>
<rect x="419.20" y="198.92" width="6.00" height="6.00" fill="#fff" stroke="#1a1a1a" stroke-width="1.15"/>
<rect x="431.38" y="192.37" width="6.00" height="6.00" fill="#fff" stroke="#1a1a1a" stroke-width="1.15"/>
<rect x="443.56" y="181.04" width="6.00" height="6.00" fill="#fff" stroke="#1a1a1a" stroke-width="1.15"/>
<rect x="455.74" y="173.79" width="6.00" height="6.00" fill="#fff" stroke="#1a1a1a" stroke-width="1.15"/>
<rect x="467.92" y="144.05" width="6.00" height="6.00" fill="#fff" stroke="#1a1a1a" stroke-width="1.15"/>
<rect x="480.10" y="102.81" width="6.00" height="6.00" fill="#fff" stroke="#1a1a1a" stroke-width="1.15"/>
<rect x="492.28" y="64.93" width="6.00" height="6.00" fill="#fff" stroke="#1a1a1a" stroke-width="1.15"/>
<rect x="504.46" y="61.75" width="6.00" height="6.00" fill="#fff" stroke="#1a1a1a" stroke-width="1.15"/>
<rect x="516.64" y="103.87" width="6.00" height="6.00" fill="#fff" stroke="#1a1a1a" stroke-width="1.15"/>
<rect x="528.82" y="129.54" width="6.00" height="6.00" fill="#fff" stroke="#1a1a1a" stroke-width="1.15"/>
<rect x="541.00" y="183.17" width="6.00" height="6.00" fill="#fff" stroke="#1a1a1a" stroke-width="1.15"/>
<rect x="553.18" y="214.85" width="6.00" height="6.00" fill="#fff" stroke="#1a1a1a" stroke-width="1.15"/>
<rect x="565.36" y="231.13" width="6.00" height="6.00" fill="#fff" stroke="#1a1a1a" stroke-width="1.15"/>
<rect x="577.54" y="235.03" width="6.00" height="6.00" fill="#fff" stroke="#1a1a1a" stroke-width="1.15"/>
<rect x="589.72" y="238.39" width="6.00" height="6.00" fill="#fff" stroke="#1a1a1a" stroke-width="1.15"/>
<path d="M373.48 186.79L376.82 190.59L373.48 194.39L370.14 190.59Z" fill="#fff" stroke="#1a1a1a" stroke-width="1.15"/>
<path d="M385.66 231.93L389.00 235.73L385.66 239.53L382.32 235.73Z" fill="#fff" stroke="#1a1a1a" stroke-width="1.15"/>
<path d="M397.84 199.18L401.18 202.98L397.84 206.78L394.50 202.98Z" fill="#fff" stroke="#1a1a1a" stroke-width="1.15"/>
<path d="M410.02 212.10L413.36 215.90L410.02 219.70L406.68 215.90Z" fill="#fff" stroke="#1a1a1a" stroke-width="1.15"/>
<path d="M422.20 198.12L425.54 201.92L422.20 205.72L418.86 201.92Z" fill="#fff" stroke="#1a1a1a" stroke-width="1.15"/>
<path d="M434.38 191.57L437.72 195.37L434.38 199.17L431.04 195.37Z" fill="#fff" stroke="#1a1a1a" stroke-width="1.15"/>
<path d="M446.56 180.24L449.90 184.04L446.56 187.84L443.22 184.04Z" fill="#fff" stroke="#1a1a1a" stroke-width="1.15"/>
<path d="M458.74 172.99L462.08 176.79L458.74 180.59L455.40 176.79Z" fill="#fff" stroke="#1a1a1a" stroke-width="1.15"/>
<path d="M470.92 143.25L474.26 147.05L470.92 150.85L467.58 147.05Z" fill="#fff" stroke="#1a1a1a" stroke-width="1.15"/>
<path d="M483.10 102.01L486.44 105.81L483.10 109.61L479.76 105.81Z" fill="#fff" stroke="#1a1a1a" stroke-width="1.15"/>
<path d="M495.28 64.13L498.62 67.93L495.28 71.73L491.94 67.93Z" fill="#fff" stroke="#1a1a1a" stroke-width="1.15"/>
<path d="M507.46 60.95L510.80 64.75L507.46 68.55L504.12 64.75Z" fill="#fff" stroke="#1a1a1a" stroke-width="1.15"/>
<path d="M519.64 94.58L522.98 98.38L519.64 102.17L516.30 98.38Z" fill="#fff" stroke="#1a1a1a" stroke-width="1.15"/>
<path d="M531.82 96.52L535.16 100.32L531.82 104.12L528.48 100.32Z" fill="#fff" stroke="#1a1a1a" stroke-width="1.15"/>
<path d="M544.00 126.08L547.34 129.88L544.00 133.68L540.66 129.88Z" fill="#fff" stroke="#1a1a1a" stroke-width="1.15"/>
<path d="M556.18 164.84L559.52 168.64L556.18 172.44L552.84 168.64Z" fill="#fff" stroke="#1a1a1a" stroke-width="1.15"/>
<path d="M568.36 204.14L571.70 207.94L568.36 211.74L565.02 207.94Z" fill="#fff" stroke="#1a1a1a" stroke-width="1.15"/>
<path d="M580.54 224.49L583.88 228.29L580.54 232.09L577.20 228.29Z" fill="#fff" stroke="#1a1a1a" stroke-width="1.15"/>
<path d="M592.72 231.40L596.06 235.20L592.72 239.00L589.38 235.20Z" fill="#fff" stroke="#1a1a1a" stroke-width="1.15"/>
<path d="M604.90 238.12L608.24 241.92L604.90 245.72L601.56 241.92Z" fill="#fff" stroke="#1a1a1a" stroke-width="1.15"/>
<path d="M373.48 186.87L376.88 193.27L370.08 193.27Z" fill="#fff" stroke="#1a1a1a" stroke-width="1.15"/>
<path d="M385.66 232.18L389.06 238.58L382.26 238.58Z" fill="#fff" stroke="#1a1a1a" stroke-width="1.15"/>
<path d="M397.84 199.25L401.24 205.66L394.44 205.66Z" fill="#fff" stroke="#1a1a1a" stroke-width="1.15"/>
<path d="M410.02 212.18L413.42 218.58L406.62 218.58Z" fill="#fff" stroke="#1a1a1a" stroke-width="1.15"/>
<path d="M422.20 198.19L425.60 204.59L418.80 204.59Z" fill="#fff" stroke="#1a1a1a" stroke-width="1.15"/>
<path d="M434.38 191.64L437.78 198.04L430.98 198.04Z" fill="#fff" stroke="#1a1a1a" stroke-width="1.15"/>
<path d="M446.56 180.32L449.96 186.72L443.16 186.72Z" fill="#fff" stroke="#1a1a1a" stroke-width="1.15"/>
<path d="M458.74 173.06L462.14 179.46L455.34 179.46Z" fill="#fff" stroke="#1a1a1a" stroke-width="1.15"/>
<path d="M470.92 143.50L474.32 149.90L467.52 149.90Z" fill="#fff" stroke="#1a1a1a" stroke-width="1.15"/>
<path d="M483.10 102.26L486.50 108.66L479.70 108.66Z" fill="#fff" stroke="#1a1a1a" stroke-width="1.15"/>
<path d="M495.28 64.20L498.68 70.60L491.88 70.60Z" fill="#fff" stroke="#1a1a1a" stroke-width="1.15"/>
<path d="M507.46 61.02L510.86 67.42L504.06 67.42Z" fill="#fff" stroke="#1a1a1a" stroke-width="1.15"/>
<path d="M519.64 93.94L523.04 100.34L516.24 100.34Z" fill="#fff" stroke="#1a1a1a" stroke-width="1.15"/>
<path d="M531.82 90.75L535.22 97.15L528.42 97.15Z" fill="#fff" stroke="#1a1a1a" stroke-width="1.15"/>
<path d="M544.00 98.36L547.40 104.76L540.60 104.76Z" fill="#fff" stroke="#1a1a1a" stroke-width="1.15"/>
<path d="M556.18 107.75L559.58 114.15L552.78 114.15Z" fill="#fff" stroke="#1a1a1a" stroke-width="1.15"/>
<path d="M568.36 119.61L571.76 126.00L564.96 126.00Z" fill="#fff" stroke="#1a1a1a" stroke-width="1.15"/>
<path d="M580.54 155.71L583.94 162.11L577.14 162.11Z" fill="#fff" stroke="#1a1a1a" stroke-width="1.15"/>
<path d="M592.72 187.04L596.12 193.44L589.32 193.44Z" fill="#fff" stroke="#1a1a1a" stroke-width="1.15"/>
<path d="M604.90 219.26L608.30 225.66L601.50 225.66Z" fill="#fff" stroke="#1a1a1a" stroke-width="1.15"/>
<path d="M617.08 230.76L620.48 237.16L613.68 237.16Z" fill="#fff" stroke="#1a1a1a" stroke-width="1.15"/>
<path d="M629.26 233.77L632.66 240.17L625.86 240.17Z" fill="#fff" stroke="#1a1a1a" stroke-width="1.15"/>
<path d="M641.44 233.77L644.84 240.17L638.04 240.17Z" fill="#fff" stroke="#1a1a1a" stroke-width="1.15"/>
</g>
<g clip-path="url(#cA)">
<polyline fill="none" stroke="#1a1a1a" stroke-width="0.8" points="68.88,364.41 81.06,363.77 93.24,367.38 105.42,365.68 117.60,367.80 129.78,376.09"/>
<polyline fill="none" stroke="#1a1a1a" stroke-width="0.8" points="68.88,355.27 81.06,354.21 93.24,356.55 105.42,355.06 117.60,356.97 129.78,361.64 141.96,367.80 154.14,379.27"/>
<polyline fill="none" stroke="#1a1a1a" stroke-width="0.8" points="68.88,344.23 81.06,343.17 93.24,345.50 105.42,343.17 117.60,345.93 129.78,347.63 141.96,351.45 154.14,360.16 166.32,376.09"/>
<polyline fill="none" stroke="#1a1a1a" stroke-width="0.8" points="68.88,337.64 81.06,332.33 93.24,333.18 105.42,331.70 117.60,332.12 129.78,333.40 141.96,338.92 154.14,346.56 166.32,352.30 178.50,365.04 190.68,382.25"/>
<polyline fill="none" stroke="#1a1a1a" stroke-width="0.8" points="68.88,320.86 81.06,320.86 93.24,322.99 105.42,319.16 117.60,316.40 129.78,315.34 141.96,320.86 154.14,325.75 166.32,330.42 178.50,339.34 190.68,352.94 202.86,365.89 215.04,384.58 227.22,399.88"/>
<polyline fill="none" stroke="#1a1a1a" stroke-width="0.8" points="68.88,315.34 81.06,313.85 93.24,316.40 105.42,313.22 117.60,308.76 129.78,308.76 141.96,310.24 154.14,314.28 166.32,319.16 178.50,327.66 190.68,339.77 202.86,352.72 215.04,365.26 227.22,380.55 239.40,394.35"/>
<polyline fill="none" stroke="#1a1a1a" stroke-width="0.8" points="68.88,307.70 81.06,307.06 93.24,309.82 105.42,307.70 117.60,303.66 129.78,303.23 141.96,303.87 154.14,304.72 166.32,309.61 178.50,316.19 190.68,325.96 202.86,337.43 215.04,346.78 227.22,358.67 239.40,368.65 251.58,385.22 263.76,395.42"/>
<polyline fill="none" stroke="#1a1a1a" stroke-width="0.8" points="68.88,303.23 81.06,300.47 93.24,307.70 105.42,303.23 117.60,299.62 129.78,298.99 141.96,299.41 154.14,301.11 166.32,303.87 178.50,308.12 190.68,315.77 202.86,325.32 215.04,329.78 227.22,343.59 239.40,353.36 251.58,365.47 263.76,378.42"/>
<polyline fill="none" stroke="#1a1a1a" stroke-width="0.8" points="68.88,297.29 81.06,293.46 93.24,302.17 105.42,297.71 117.60,294.53 129.78,293.89 141.96,293.89 154.14,296.65 166.32,298.99 178.50,302.81 190.68,310.03 202.86,316.62 215.04,320.01 227.22,332.97 239.40,340.83 251.58,350.18 263.76,361.43 275.94,376.30 288.12,388.41 300.30,397.54"/>
<path fill="none" stroke="#1a1a1a" stroke-width="0.9" d="M68.88 363.34V365.47M66.93 363.34H70.83M66.93 365.47H70.83M81.06 362.71V364.83M79.11 362.71H83.01M79.11 364.83H83.01M93.24 363.13V371.63M91.29 363.13H95.19M91.29 371.63H95.19M105.42 364.62V366.74M103.47 364.62H107.37M103.47 366.74H107.37M117.60 366.74V368.87M115.65 366.74H119.55M115.65 368.87H119.55M129.78 375.03V377.15M127.83 375.03H131.73M127.83 377.15H131.73"/>
<path fill="none" stroke="#1a1a1a" stroke-width="0.9" d="M68.88 354.21V356.33M66.93 354.21H70.83M66.93 356.33H70.83M81.06 353.15V355.27M79.11 353.15H83.01M79.11 355.27H83.01M93.24 355.49V357.61M91.29 355.49H95.19M91.29 357.61H95.19M105.42 354.00V356.12M103.47 354.00H107.37M103.47 356.12H107.37M117.60 355.91V358.03M115.65 355.91H119.55M115.65 358.03H119.55M129.78 360.58V362.71M127.83 360.58H131.73M127.83 362.71H131.73M141.96 366.74V368.87M140.01 366.74H143.91M140.01 368.87H143.91M154.14 378.21V380.34M152.19 378.21H156.09M152.19 380.34H156.09"/>
<path fill="none" stroke="#1a1a1a" stroke-width="0.9" d="M68.88 340.62V347.84M66.93 340.62H70.83M66.93 347.84H70.83M81.06 342.10V344.23M79.11 342.10H83.01M79.11 344.23H83.01M93.24 344.44V346.56M91.29 344.44H95.19M91.29 346.56H95.19M105.42 338.92V347.41M103.47 338.92H107.37M103.47 347.41H107.37M117.60 344.87V346.99M115.65 344.87H119.55M115.65 346.99H119.55M129.78 346.56V348.69M127.83 346.56H131.73M127.83 348.69H131.73M141.96 350.39V352.51M140.01 350.39H143.91M140.01 352.51H143.91M154.14 359.10V361.22M152.19 359.10H156.09M152.19 361.22H156.09M166.32 375.03V377.15M164.37 375.03H168.27M164.37 377.15H168.27"/>
<path fill="none" stroke="#1a1a1a" stroke-width="0.9" d="M68.88 332.97V342.32M66.93 332.97H70.83M66.93 342.32H70.83M81.06 331.27V333.40M79.11 331.27H83.01M79.11 333.40H83.01M93.24 332.12V334.25M91.29 332.12H95.19M91.29 334.25H95.19M105.42 327.02V336.37M103.47 327.02H107.37M103.47 336.37H107.37M117.60 331.06V333.18M115.65 331.06H119.55M115.65 333.18H119.55M129.78 330.00V336.79M127.83 330.00H131.73M127.83 336.79H131.73M141.96 337.86V339.98M140.01 337.86H143.91M140.01 339.98H143.91M154.14 345.50V347.63M152.19 345.50H156.09M152.19 347.63H156.09M166.32 351.24V353.36M164.37 351.24H168.27M164.37 353.36H168.27M178.50 363.98V366.11M176.55 363.98H180.45M176.55 366.11H180.45M190.68 381.19V383.31M188.73 381.19H192.63M188.73 383.31H192.63"/>
<path fill="none" stroke="#1a1a1a" stroke-width="0.9" d="M68.88 316.19V325.54M66.93 316.19H70.83M66.93 325.54H70.83M81.06 317.25V324.47M79.11 317.25H83.01M79.11 324.47H83.01M93.24 318.32V327.66M91.29 318.32H95.19M91.29 327.66H95.19M105.42 313.85V324.47M103.47 313.85H107.37M103.47 324.47H107.37M117.60 311.73V321.08M115.65 311.73H119.55M115.65 321.08H119.55M129.78 310.03V320.65M127.83 310.03H131.73M127.83 320.65H131.73M141.96 315.55V326.17M140.01 315.55H143.91M140.01 326.17H143.91M154.14 324.69V326.81M152.19 324.69H156.09M152.19 326.81H156.09M166.32 324.47V336.37M164.37 324.47H168.27M164.37 336.37H168.27M178.50 338.28V340.40M176.55 338.28H180.45M176.55 340.40H180.45M190.68 351.87V354.00M188.73 351.87H192.63M188.73 354.00H192.63M202.86 364.83V366.95M200.91 364.83H204.81M200.91 366.95H204.81M215.04 380.97V388.19M213.09 380.97H216.99M213.09 388.19H216.99M227.22 396.27V403.49M225.27 396.27H229.17M225.27 403.49H229.17"/>
<path fill="none" stroke="#1a1a1a" stroke-width="0.9" d="M68.88 314.28V316.40M66.93 314.28H70.83M66.93 316.40H70.83M81.06 312.79V314.92M79.11 312.79H83.01M79.11 314.92H83.01M93.24 315.34V317.47M91.29 315.34H95.19M91.29 317.47H95.19M105.42 312.16V314.28M103.47 312.16H107.37M103.47 314.28H107.37M117.60 307.70V309.82M115.65 307.70H119.55M115.65 309.82H119.55M129.78 307.70V309.82M127.83 307.70H131.73M127.83 309.82H131.73M141.96 309.18V311.31M140.01 309.18H143.91M140.01 311.31H143.91M154.14 313.22V315.34M152.19 313.22H156.09M152.19 315.34H156.09M166.32 318.10V320.23M164.37 318.10H168.27M164.37 320.23H168.27M178.50 326.60V328.72M176.55 326.60H180.45M176.55 328.72H180.45M190.68 338.71V340.83M188.73 338.71H192.63M188.73 340.83H192.63M202.86 351.66V353.79M200.91 351.66H204.81M200.91 353.79H204.81M215.04 364.19V366.32M213.09 364.19H216.99M213.09 366.32H216.99M227.22 376.30V384.80M225.27 376.30H229.17M225.27 384.80H229.17M239.40 389.68V399.03M237.45 389.68H241.35M237.45 399.03H241.35"/>
<path fill="none" stroke="#1a1a1a" stroke-width="0.9" d="M68.88 306.63V308.76M66.93 306.63H70.83M66.93 308.76H70.83M81.06 306.00V308.12M79.11 306.00H83.01M79.11 308.12H83.01M93.24 308.76V310.88M91.29 308.76H95.19M91.29 310.88H95.19M105.42 306.63V308.76M103.47 306.63H107.37M103.47 308.76H107.37M117.60 302.60V304.72M115.65 302.60H119.55M115.65 304.72H119.55M129.78 302.17V304.30M127.83 302.17H131.73M127.83 304.30H131.73M141.96 302.81V304.93M140.01 302.81H143.91M140.01 304.93H143.91M154.14 303.66V305.78M152.19 303.66H156.09M152.19 305.78H156.09M166.32 308.54V310.67M164.37 308.54H168.27M164.37 310.67H168.27M178.50 315.13V317.25M176.55 315.13H180.45M176.55 317.25H180.45M190.68 324.90V327.02M188.73 324.90H192.63M188.73 327.02H192.63M202.86 336.37V338.49M200.91 336.37H204.81M200.91 338.49H204.81M215.04 345.71V347.84M213.09 345.71H216.99M213.09 347.84H216.99M227.22 357.61V359.73M225.27 357.61H229.17M225.27 359.73H229.17M239.40 362.28V375.03M237.45 362.28H241.35M237.45 375.03H241.35M251.58 380.97V389.47M249.63 380.97H253.53M249.63 389.47H253.53M263.76 388.41V402.43M261.81 388.41H265.71M261.81 402.43H265.71"/>
<path fill="none" stroke="#1a1a1a" stroke-width="0.9" d="M68.88 302.17V304.30M66.93 302.17H70.83M66.93 304.30H70.83M81.06 299.41V301.54M79.11 299.41H83.01M79.11 301.54H83.01M93.24 306.63V308.76M91.29 306.63H95.19M91.29 308.76H95.19M105.42 302.17V304.30M103.47 302.17H107.37M103.47 304.30H107.37M117.60 298.56V300.69M115.65 298.56H119.55M115.65 300.69H119.55M129.78 297.92V300.05M127.83 297.92H131.73M127.83 300.05H131.73M141.96 298.35V300.47M140.01 298.35H143.91M140.01 300.47H143.91M154.14 300.05V302.17M152.19 300.05H156.09M152.19 302.17H156.09M166.32 302.81V304.93M164.37 302.81H168.27M164.37 304.93H168.27M178.50 307.06V309.18M176.55 307.06H180.45M176.55 309.18H180.45M190.68 314.70V316.83M188.73 314.70H192.63M188.73 316.83H192.63M202.86 324.26V326.39M200.91 324.26H204.81M200.91 326.39H204.81M215.04 328.72V330.85M213.09 328.72H216.99M213.09 330.85H216.99M227.22 342.53V344.65M225.27 342.53H229.17M225.27 344.65H229.17M239.40 347.63V359.10M237.45 347.63H241.35M237.45 359.10H241.35M251.58 359.10V371.84M249.63 359.10H253.53M249.63 371.84H253.53M263.76 370.78V386.07M261.81 370.78H265.71M261.81 386.07H265.71"/>
<path fill="none" stroke="#1a1a1a" stroke-width="0.9" d="M68.88 293.25V301.32M66.93 293.25H70.83M66.93 301.32H70.83M81.06 289.43V297.50M79.11 289.43H83.01M79.11 297.50H83.01M93.24 298.14V306.21M91.29 298.14H95.19M91.29 306.21H95.19M105.42 293.68V301.75M103.47 293.68H107.37M103.47 301.75H107.37M117.60 290.49V298.56M115.65 290.49H119.55M115.65 298.56H119.55M129.78 289.85V297.92M127.83 289.85H131.73M127.83 297.92H131.73M141.96 289.85V297.92M140.01 289.85H143.91M140.01 297.92H143.91M154.14 292.61V300.69M152.19 292.61H156.09M152.19 300.69H156.09M166.32 294.95V303.02M164.37 294.95H168.27M164.37 303.02H168.27M178.50 300.69V304.93M176.55 300.69H180.45M176.55 304.93H180.45M190.68 307.91V312.16M188.73 307.91H192.63M188.73 312.16H192.63M202.86 314.49V318.74M200.91 314.49H204.81M200.91 318.74H204.81M215.04 317.89V322.14M213.09 317.89H216.99M213.09 322.14H216.99M227.22 330.42V335.52M225.27 330.42H229.17M225.27 335.52H229.17M239.40 335.52V346.14M237.45 335.52H241.35M237.45 346.14H241.35M251.58 345.50V354.85M249.63 345.50H253.53M249.63 354.85H253.53M263.76 355.06V367.80M261.81 355.06H265.71M261.81 367.80H265.71M275.94 370.35V382.25M273.99 370.35H277.89M273.99 382.25H277.89M288.12 381.40V395.42M286.17 381.40H290.07M286.17 395.42H290.07M300.30 389.89V405.19M298.35 389.89H302.25M298.35 405.19H302.25"/>
<circle cx="68.88" cy="315.34" r="3.35" fill="#fff" stroke="#1a1a1a" stroke-width="0.95"/>
<circle cx="81.06" cy="313.85" r="3.35" fill="#fff" stroke="#1a1a1a" stroke-width="0.95"/>
<circle cx="93.24" cy="316.40" r="3.35" fill="#fff" stroke="#1a1a1a" stroke-width="0.95"/>
<circle cx="105.42" cy="313.22" r="3.35" fill="#fff" stroke="#1a1a1a" stroke-width="0.95"/>
<circle cx="117.60" cy="308.76" r="3.35" fill="#fff" stroke="#1a1a1a" stroke-width="0.95"/>
<circle cx="129.78" cy="308.76" r="3.35" fill="#fff" stroke="#1a1a1a" stroke-width="0.95"/>
<circle cx="141.96" cy="310.24" r="3.35" fill="#fff" stroke="#1a1a1a" stroke-width="0.95"/>
<circle cx="154.14" cy="314.28" r="3.35" fill="#fff" stroke="#1a1a1a" stroke-width="0.95"/>
<circle cx="166.32" cy="319.16" r="3.35" fill="#fff" stroke="#1a1a1a" stroke-width="0.95"/>
<circle cx="178.50" cy="327.66" r="3.35" fill="#fff" stroke="#1a1a1a" stroke-width="0.95"/>
<circle cx="190.68" cy="339.77" r="3.35" fill="#fff" stroke="#1a1a1a" stroke-width="0.95"/>
<circle cx="202.86" cy="352.72" r="3.35" fill="#fff" stroke="#1a1a1a" stroke-width="0.95"/>
<circle cx="215.04" cy="365.26" r="3.35" fill="#fff" stroke="#1a1a1a" stroke-width="0.95"/>
<circle cx="227.22" cy="380.55" r="3.35" fill="#fff" stroke="#1a1a1a" stroke-width="0.95"/>
<circle cx="239.40" cy="394.35" r="3.35" fill="#fff" stroke="#1a1a1a" stroke-width="0.95"/>
<rect x="66.33" y="305.15" width="5.10" height="5.10" fill="#fff" stroke="#1a1a1a" stroke-width="0.95"/>
<rect x="78.51" y="304.51" width="5.10" height="5.10" fill="#fff" stroke="#1a1a1a" stroke-width="0.95"/>
<rect x="90.69" y="307.27" width="5.10" height="5.10" fill="#fff" stroke="#1a1a1a" stroke-width="0.95"/>
<rect x="102.87" y="305.15" width="5.10" height="5.10" fill="#fff" stroke="#1a1a1a" stroke-width="0.95"/>
<rect x="115.05" y="301.11" width="5.10" height="5.10" fill="#fff" stroke="#1a1a1a" stroke-width="0.95"/>
<rect x="127.23" y="300.68" width="5.10" height="5.10" fill="#fff" stroke="#1a1a1a" stroke-width="0.95"/>
<rect x="139.41" y="301.32" width="5.10" height="5.10" fill="#fff" stroke="#1a1a1a" stroke-width="0.95"/>
<rect x="151.59" y="302.17" width="5.10" height="5.10" fill="#fff" stroke="#1a1a1a" stroke-width="0.95"/>
<rect x="163.77" y="307.06" width="5.10" height="5.10" fill="#fff" stroke="#1a1a1a" stroke-width="0.95"/>
<rect x="175.95" y="313.64" width="5.10" height="5.10" fill="#fff" stroke="#1a1a1a" stroke-width="0.95"/>
<rect x="188.13" y="323.41" width="5.10" height="5.10" fill="#fff" stroke="#1a1a1a" stroke-width="0.95"/>
<rect x="200.31" y="334.88" width="5.10" height="5.10" fill="#fff" stroke="#1a1a1a" stroke-width="0.95"/>
<rect x="212.49" y="344.23" width="5.10" height="5.10" fill="#fff" stroke="#1a1a1a" stroke-width="0.95"/>
<rect x="224.67" y="356.12" width="5.10" height="5.10" fill="#fff" stroke="#1a1a1a" stroke-width="0.95"/>
<rect x="236.85" y="366.10" width="5.10" height="5.10" fill="#fff" stroke="#1a1a1a" stroke-width="0.95"/>
<rect x="249.03" y="382.67" width="5.10" height="5.10" fill="#fff" stroke="#1a1a1a" stroke-width="0.95"/>
<rect x="261.21" y="392.87" width="5.10" height="5.10" fill="#fff" stroke="#1a1a1a" stroke-width="0.95"/>
<path d="M68.88 299.73L71.96 303.23L68.88 306.73L65.80 303.23Z" fill="#fff" stroke="#1a1a1a" stroke-width="0.95"/>
<path d="M81.06 296.97L84.14 300.47L81.06 303.97L77.98 300.47Z" fill="#fff" stroke="#1a1a1a" stroke-width="0.95"/>
<path d="M93.24 304.20L96.32 307.70L93.24 311.20L90.16 307.70Z" fill="#fff" stroke="#1a1a1a" stroke-width="0.95"/>
<path d="M105.42 299.73L108.50 303.23L105.42 306.73L102.34 303.23Z" fill="#fff" stroke="#1a1a1a" stroke-width="0.95"/>
<path d="M117.60 296.12L120.68 299.62L117.60 303.12L114.52 299.62Z" fill="#fff" stroke="#1a1a1a" stroke-width="0.95"/>
<path d="M129.78 295.49L132.86 298.99L129.78 302.49L126.70 298.99Z" fill="#fff" stroke="#1a1a1a" stroke-width="0.95"/>
<path d="M141.96 295.91L145.04 299.41L141.96 302.91L138.88 299.41Z" fill="#fff" stroke="#1a1a1a" stroke-width="0.95"/>
<path d="M154.14 297.61L157.22 301.11L154.14 304.61L151.06 301.11Z" fill="#fff" stroke="#1a1a1a" stroke-width="0.95"/>
<path d="M166.32 300.37L169.40 303.87L166.32 307.37L163.24 303.87Z" fill="#fff" stroke="#1a1a1a" stroke-width="0.95"/>
<path d="M178.50 304.62L181.58 308.12L178.50 311.62L175.42 308.12Z" fill="#fff" stroke="#1a1a1a" stroke-width="0.95"/>
<path d="M190.68 312.27L193.76 315.77L190.68 319.27L187.60 315.77Z" fill="#fff" stroke="#1a1a1a" stroke-width="0.95"/>
<path d="M202.86 321.82L205.94 325.32L202.86 328.82L199.78 325.32Z" fill="#fff" stroke="#1a1a1a" stroke-width="0.95"/>
<path d="M215.04 326.28L218.12 329.78L215.04 333.28L211.96 329.78Z" fill="#fff" stroke="#1a1a1a" stroke-width="0.95"/>
<path d="M227.22 340.09L230.30 343.59L227.22 347.09L224.14 343.59Z" fill="#fff" stroke="#1a1a1a" stroke-width="0.95"/>
<path d="M239.40 349.86L242.48 353.36L239.40 356.86L236.32 353.36Z" fill="#fff" stroke="#1a1a1a" stroke-width="0.95"/>
<path d="M251.58 361.97L254.66 365.47L251.58 368.97L248.50 365.47Z" fill="#fff" stroke="#1a1a1a" stroke-width="0.95"/>
<path d="M263.76 374.92L266.84 378.42L263.76 381.92L260.68 378.42Z" fill="#fff" stroke="#1a1a1a" stroke-width="0.95"/>
<path d="M68.88 294.34L71.93 299.69L65.83 299.69Z" fill="#fff" stroke="#1a1a1a" stroke-width="0.95"/>
<path d="M81.06 290.51L84.11 295.86L78.01 295.86Z" fill="#fff" stroke="#1a1a1a" stroke-width="0.95"/>
<path d="M93.24 299.22L96.29 304.57L90.19 304.57Z" fill="#fff" stroke="#1a1a1a" stroke-width="0.95"/>
<path d="M105.42 294.76L108.47 300.11L102.37 300.11Z" fill="#fff" stroke="#1a1a1a" stroke-width="0.95"/>
<path d="M117.60 291.58L120.65 296.93L114.55 296.93Z" fill="#fff" stroke="#1a1a1a" stroke-width="0.95"/>
<path d="M129.78 290.94L132.83 296.29L126.73 296.29Z" fill="#fff" stroke="#1a1a1a" stroke-width="0.95"/>
<path d="M141.96 290.94L145.01 296.29L138.91 296.29Z" fill="#fff" stroke="#1a1a1a" stroke-width="0.95"/>
<path d="M154.14 293.70L157.19 299.05L151.09 299.05Z" fill="#fff" stroke="#1a1a1a" stroke-width="0.95"/>
<path d="M166.32 296.04L169.37 301.39L163.27 301.39Z" fill="#fff" stroke="#1a1a1a" stroke-width="0.95"/>
<path d="M178.50 299.86L181.55 305.21L175.45 305.21Z" fill="#fff" stroke="#1a1a1a" stroke-width="0.95"/>
<path d="M190.68 307.08L193.73 312.43L187.63 312.43Z" fill="#fff" stroke="#1a1a1a" stroke-width="0.95"/>
<path d="M202.86 313.67L205.91 319.02L199.81 319.02Z" fill="#fff" stroke="#1a1a1a" stroke-width="0.95"/>
<path d="M215.04 317.06L218.09 322.41L211.99 322.41Z" fill="#fff" stroke="#1a1a1a" stroke-width="0.95"/>
<path d="M227.22 330.02L230.27 335.37L224.17 335.37Z" fill="#fff" stroke="#1a1a1a" stroke-width="0.95"/>
<path d="M239.40 337.88L242.45 343.23L236.35 343.23Z" fill="#fff" stroke="#1a1a1a" stroke-width="0.95"/>
<path d="M251.58 347.23L254.63 352.58L248.53 352.58Z" fill="#fff" stroke="#1a1a1a" stroke-width="0.95"/>
<path d="M263.76 358.48L266.81 363.83L260.71 363.83Z" fill="#fff" stroke="#1a1a1a" stroke-width="0.95"/>
<path d="M275.94 373.35L278.99 378.70L272.89 378.70Z" fill="#fff" stroke="#1a1a1a" stroke-width="0.95"/>
<path d="M288.12 385.46L291.17 390.81L285.07 390.81Z" fill="#fff" stroke="#1a1a1a" stroke-width="0.95"/>
<path d="M300.30 394.59L303.35 399.94L297.25 399.94Z" fill="#fff" stroke="#1a1a1a" stroke-width="0.95"/>
<circle cx="68.88" cy="364.41" r="3.60" fill="#1a1a1a"/>
<circle cx="81.06" cy="363.77" r="3.60" fill="#1a1a1a"/>
<circle cx="93.24" cy="367.38" r="3.60" fill="#1a1a1a"/>
<circle cx="105.42" cy="365.68" r="3.60" fill="#1a1a1a"/>
<circle cx="117.60" cy="367.80" r="3.60" fill="#1a1a1a"/>
<circle cx="129.78" cy="376.09" r="3.60" fill="#1a1a1a"/>
<rect x="65.43" y="351.82" width="6.90" height="6.90" fill="#1a1a1a"/>
<rect x="77.61" y="350.76" width="6.90" height="6.90" fill="#1a1a1a"/>
<rect x="89.79" y="353.10" width="6.90" height="6.90" fill="#1a1a1a"/>
<rect x="101.97" y="351.61" width="6.90" height="6.90" fill="#1a1a1a"/>
<rect x="114.15" y="353.52" width="6.90" height="6.90" fill="#1a1a1a"/>
<rect x="126.33" y="358.19" width="6.90" height="6.90" fill="#1a1a1a"/>
<rect x="138.51" y="364.35" width="6.90" height="6.90" fill="#1a1a1a"/>
<rect x="150.69" y="375.82" width="6.90" height="6.90" fill="#1a1a1a"/>
<path d="M68.88 340.53L72.51 344.23L68.88 347.93L65.25 344.23Z" fill="#1a1a1a"/>
<path d="M81.06 339.47L84.69 343.17L81.06 346.87L77.43 343.17Z" fill="#1a1a1a"/>
<path d="M93.24 341.80L96.87 345.50L93.24 349.20L89.61 345.50Z" fill="#1a1a1a"/>
<path d="M105.42 339.47L109.05 343.17L105.42 346.87L101.79 343.17Z" fill="#1a1a1a"/>
<path d="M117.60 342.23L121.23 345.93L117.60 349.63L113.97 345.93Z" fill="#1a1a1a"/>
<path d="M129.78 343.93L133.41 347.63L129.78 351.33L126.15 347.63Z" fill="#1a1a1a"/>
<path d="M141.96 347.75L145.59 351.45L141.96 355.15L138.33 351.45Z" fill="#1a1a1a"/>
<path d="M154.14 356.46L157.77 360.16L154.14 363.86L150.51 360.16Z" fill="#1a1a1a"/>
<path d="M166.32 372.39L169.95 376.09L166.32 379.79L162.69 376.09Z" fill="#1a1a1a"/>
<path d="M68.88 334.32L72.27 340.27L65.48 340.27Z" fill="#1a1a1a"/>
<path d="M81.06 329.01L84.45 334.96L77.67 334.96Z" fill="#1a1a1a"/>
<path d="M93.24 329.86L96.64 335.81L89.85 335.81Z" fill="#1a1a1a"/>
<path d="M105.42 328.37L108.81 334.32L102.03 334.32Z" fill="#1a1a1a"/>
<path d="M117.60 328.80L120.99 334.75L114.20 334.75Z" fill="#1a1a1a"/>
<path d="M129.78 330.07L133.18 336.02L126.39 336.02Z" fill="#1a1a1a"/>
<path d="M141.96 335.59L145.35 341.54L138.56 341.54Z" fill="#1a1a1a"/>
<path d="M154.14 343.24L157.53 349.19L150.74 349.19Z" fill="#1a1a1a"/>
<path d="M166.32 348.97L169.72 354.92L162.92 354.92Z" fill="#1a1a1a"/>
<path d="M178.50 361.72L181.90 367.67L175.10 367.67Z" fill="#1a1a1a"/>
<path d="M190.68 378.92L194.08 384.87L187.28 384.87Z" fill="#1a1a1a"/>
<path d="M68.88 324.19L72.27 318.24L65.48 318.24Z" fill="#1a1a1a"/>
<path d="M81.06 324.19L84.45 318.24L77.67 318.24Z" fill="#1a1a1a"/>
<path d="M93.24 326.31L96.64 320.36L89.85 320.36Z" fill="#1a1a1a"/>
<path d="M105.42 322.49L108.81 316.54L102.03 316.54Z" fill="#1a1a1a"/>
<path d="M117.60 319.73L120.99 313.78L114.20 313.78Z" fill="#1a1a1a"/>
<path d="M129.78 318.67L133.18 312.72L126.39 312.72Z" fill="#1a1a1a"/>
<path d="M141.96 324.19L145.35 318.24L138.56 318.24Z" fill="#1a1a1a"/>
<path d="M154.14 329.07L157.53 323.12L150.74 323.12Z" fill="#1a1a1a"/>
<path d="M166.32 333.75L169.72 327.80L162.92 327.80Z" fill="#1a1a1a"/>
<path d="M178.50 342.67L181.90 336.72L175.10 336.72Z" fill="#1a1a1a"/>
<path d="M190.68 356.26L194.08 350.31L187.28 350.31Z" fill="#1a1a1a"/>
<path d="M202.86 369.22L206.26 363.27L199.47 363.27Z" fill="#1a1a1a"/>
<path d="M215.04 387.91L218.44 381.96L211.65 381.96Z" fill="#1a1a1a"/>
<path d="M227.22 403.20L230.61 397.25L223.82 397.25Z" fill="#1a1a1a"/>
</g>
<g clip-path="url(#cA)">
<polyline fill="none" stroke="#1a1a1a" stroke-width="0.8" points="373.48,361.22 385.66,361.22 397.84,365.47 410.02,365.47 422.20,369.29 434.38,375.66 446.56,386.07 458.74,396.90"/>
<polyline fill="none" stroke="#1a1a1a" stroke-width="0.8" points="373.48,354.64 385.66,353.57 397.84,357.40 410.02,356.33 422.20,361.22 434.38,363.98 446.56,369.08 458.74,376.73 470.92,389.26 483.10,400.73"/>
<polyline fill="none" stroke="#1a1a1a" stroke-width="0.8" points="373.48,345.93 385.66,345.29 397.84,347.41 410.02,344.65 422.20,348.90 434.38,351.87 446.56,354.64 458.74,359.31 470.92,371.84 483.10,383.31 495.28,396.27 507.46,407.10"/>
<polyline fill="none" stroke="#1a1a1a" stroke-width="0.8" points="373.48,334.88 385.66,335.52 397.84,335.94 410.02,332.33 422.20,333.82 434.38,332.76 446.56,334.67 458.74,342.95 470.92,346.99 483.10,352.09 495.28,368.02 507.46,387.77 519.64,400.73 531.82,412.20"/>
<polyline fill="none" stroke="#1a1a1a" stroke-width="0.8" points="373.48,324.05 385.66,325.32 397.84,328.94 410.02,325.75 422.20,322.99 434.38,314.07 446.56,309.82 458.74,310.24 470.92,311.31 483.10,316.62 495.28,333.61 507.46,351.02 519.64,372.48 531.82,393.72 544.00,406.67 556.18,417.72"/>
<polyline fill="none" stroke="#1a1a1a" stroke-width="0.8" points="373.48,319.59 385.66,319.59 397.84,322.78 410.02,320.23 422.20,317.47 434.38,309.18 446.56,304.30 458.74,304.30 470.92,304.30 483.10,309.39 495.28,322.78 507.46,339.34 519.64,362.92 531.82,383.31 544.00,401.36 556.18,410.71 568.36,418.78 580.54,425.79"/>
<polyline fill="none" stroke="#1a1a1a" stroke-width="0.8" points="373.48,314.07 385.66,311.94 397.84,316.19 410.02,314.07 422.20,313.01 434.38,307.91 446.56,302.81 458.74,302.81 470.92,301.75 483.10,302.17 495.28,312.16 507.46,325.96 519.64,346.99 531.82,362.49 544.00,376.51 556.18,392.02 568.36,407.10 580.54,413.26"/>
<polyline fill="none" stroke="#1a1a1a" stroke-width="0.8" points="373.48,308.54 385.66,304.30 397.84,312.37 410.02,309.82 422.20,309.18 434.38,304.93 446.56,298.35 458.74,297.71 470.92,295.80 483.10,298.14 495.28,307.48 507.46,319.38 519.64,335.52 531.82,346.78 544.00,358.03 556.18,367.59 568.36,384.80 580.54,397.54 592.72,408.37 604.90,416.23"/>
<polyline fill="none" stroke="#1a1a1a" stroke-width="0.8" points="373.48,303.23 385.66,296.23 397.84,306.42 410.02,303.23 422.20,303.23 434.38,298.35 446.56,292.19 458.74,292.19 470.92,291.13 483.10,293.89 495.28,301.75 507.46,312.37 519.64,325.32 531.82,334.25 544.00,340.40 556.18,348.48 568.36,362.07 580.54,375.45 592.72,388.83 604.90,401.36 617.08,409.43 629.26,414.32 641.44,419.84"/>
<path fill="none" stroke="#1a1a1a" stroke-width="0.9" d="M373.48 354.21V368.23M371.58 354.21H375.38M371.58 368.23H375.38M385.66 354.21V368.23M383.76 354.21H387.56M383.76 368.23H387.56M397.84 358.46V372.48M395.94 358.46H399.74M395.94 372.48H399.74M410.02 358.46V372.48M408.12 358.46H411.92M408.12 372.48H411.92M422.20 362.28V376.30M420.30 362.28H424.10M420.30 376.30H424.10M434.38 369.29V382.04M432.48 369.29H436.28M432.48 382.04H436.28M446.56 377.57V394.57M444.66 377.57H448.46M444.66 394.57H448.46M458.74 394.78V399.03M456.84 394.78H460.64M456.84 399.03H460.64"/>
<path fill="none" stroke="#1a1a1a" stroke-width="0.9" d="M373.48 347.63V361.64M371.58 347.63H375.38M371.58 361.64H375.38M385.66 346.56V360.58M383.76 346.56H387.56M383.76 360.58H387.56M397.84 350.39V364.41M395.94 350.39H399.74M395.94 364.41H399.74M410.02 349.33V363.34M408.12 349.33H411.92M408.12 363.34H411.92M422.20 354.21V368.23M420.30 354.21H424.10M420.30 368.23H424.10M434.38 356.97V370.99M432.48 356.97H436.28M432.48 370.99H436.28M446.56 362.07V376.09M444.66 362.07H448.46M444.66 376.09H448.46M458.74 369.72V383.73M456.84 369.72H460.64M456.84 383.73H460.64M470.92 386.07V392.44M469.02 386.07H472.82M469.02 392.44H472.82M483.10 394.35V407.10M481.20 394.35H485.00M481.20 407.10H485.00"/>
<path fill="none" stroke="#1a1a1a" stroke-width="0.9" d="M373.48 338.92V352.94M371.58 338.92H375.38M371.58 352.94H375.38M385.66 338.28V352.30M383.76 338.28H387.56M383.76 352.30H387.56M397.84 340.40V354.42M395.94 340.40H399.74M395.94 354.42H399.74M410.02 337.64V351.66M408.12 337.64H411.92M408.12 351.66H411.92M422.20 341.89V355.91M420.30 341.89H424.10M420.30 355.91H424.10M434.38 344.87V358.88M432.48 344.87H436.28M432.48 358.88H436.28M446.56 347.63V361.64M444.66 347.63H448.46M444.66 361.64H448.46M458.74 352.30V366.32M456.84 352.30H460.64M456.84 366.32H460.64M470.92 364.83V378.85M469.02 364.83H472.82M469.02 378.85H472.82M483.10 378.00V388.62M481.20 378.00H485.00M481.20 388.62H485.00M495.28 390.96V401.58M493.38 390.96H497.18M493.38 401.58H497.18M507.46 402.85V411.35M505.56 402.85H509.36M505.56 411.35H509.36"/>
<path fill="none" stroke="#1a1a1a" stroke-width="0.9" d="M373.48 325.96V343.80M371.58 325.96H375.38M371.58 343.80H375.38M385.66 326.60V344.44M383.76 326.60H387.56M383.76 344.44H387.56M397.84 327.02V344.87M395.94 327.02H399.74M395.94 344.87H399.74M410.02 323.41V341.25M408.12 323.41H411.92M408.12 341.25H411.92M422.20 324.90V342.74M420.30 324.90H424.10M420.30 342.74H424.10M434.38 323.84V341.68M432.48 323.84H436.28M432.48 341.68H436.28M446.56 325.75V343.59M444.66 325.75H448.46M444.66 343.59H448.46M458.74 334.46V351.45M456.84 334.46H460.64M456.84 351.45H460.64M470.92 341.68V352.30M469.02 341.68H472.82M469.02 352.30H472.82M483.10 341.47V362.71M481.20 341.47H485.00M481.20 362.71H485.00M495.28 358.46V377.57M493.38 358.46H497.18M493.38 377.57H497.18M507.46 379.27V396.27M505.56 379.27H509.36M505.56 396.27H509.36M519.64 394.35V407.10M517.74 394.35H521.54M517.74 407.10H521.54M531.82 406.67V417.72M529.92 406.67H533.72M529.92 417.72H533.72"/>
<path fill="none" stroke="#1a1a1a" stroke-width="0.9" d="M373.48 313.43V334.67M371.58 313.43H375.38M371.58 334.67H375.38M385.66 314.70V335.94M383.76 314.70H387.56M383.76 335.94H387.56M397.84 318.32V339.56M395.94 318.32H399.74M395.94 339.56H399.74M410.02 315.13V336.37M408.12 315.13H411.92M408.12 336.37H411.92M422.20 312.37V333.61M420.30 312.37H424.10M420.30 333.61H424.10M434.38 303.45V324.69M432.48 303.45H436.28M432.48 324.69H436.28M446.56 299.20V320.44M444.66 299.20H448.46M444.66 320.44H448.46M458.74 299.62V320.86M456.84 299.62H460.64M456.84 320.86H460.64M470.92 300.69V321.93M469.02 300.69H472.82M469.02 321.93H472.82M483.10 306.00V327.24M481.20 306.00H485.00M481.20 327.24H485.00M495.28 322.99V344.23M493.38 322.99H497.18M493.38 344.23H497.18M507.46 340.40V361.64M505.56 340.40H509.36M505.56 361.64H509.36M519.64 361.86V383.10M517.74 361.86H521.54M517.74 383.10H521.54M531.82 387.35V400.09M529.92 387.35H533.72M529.92 400.09H533.72M544.00 402.43V410.92M542.10 402.43H545.90M542.10 410.92H545.90M556.18 415.59V419.84M554.28 415.59H558.08M554.28 419.84H558.08"/>
<path fill="none" stroke="#1a1a1a" stroke-width="0.9" d="M373.48 310.03V329.15M371.58 310.03H375.38M371.58 329.15H375.38M385.66 310.03V329.15M383.76 310.03H387.56M383.76 329.15H387.56M397.84 313.22V332.33M395.94 313.22H399.74M395.94 332.33H399.74M410.02 310.67V329.78M408.12 310.67H411.92M408.12 329.78H411.92M422.20 307.91V327.02M420.30 307.91H424.10M420.30 327.02H424.10M434.38 299.62V318.74M432.48 299.62H436.28M432.48 318.74H436.28M446.56 294.74V313.85M444.66 294.74H448.46M444.66 313.85H448.46M458.74 294.74V313.85M456.84 294.74H460.64M456.84 313.85H460.64M470.92 294.74V313.85M469.02 294.74H472.82M469.02 313.85H472.82M483.10 299.84V318.95M481.20 299.84H485.00M481.20 318.95H485.00M495.28 313.22V332.33M493.38 313.22H497.18M493.38 332.33H497.18M507.46 329.78V348.90M505.56 329.78H509.36M505.56 348.90H509.36M519.64 353.36V372.48M517.74 353.36H521.54M517.74 372.48H521.54M531.82 376.94V389.68M529.92 376.94H533.72M529.92 389.68H533.72M544.00 394.35V408.37M542.10 394.35H545.90M542.10 408.37H545.90M556.18 405.19V416.23M554.28 405.19H558.08M554.28 416.23H558.08M568.36 414.96V422.60M566.46 414.96H570.26M566.46 422.60H570.26M580.54 424.09V427.49M578.64 424.09H582.44M578.64 427.49H582.44"/>
<path fill="none" stroke="#1a1a1a" stroke-width="0.9" d="M373.48 304.51V323.63M371.58 304.51H375.38M371.58 323.63H375.38M385.66 302.39V321.50M383.76 302.39H387.56M383.76 321.50H387.56M397.84 306.63V325.75M395.94 306.63H399.74M395.94 325.75H399.74M410.02 304.51V323.63M408.12 304.51H411.92M408.12 323.63H411.92M422.20 303.45V322.56M420.30 303.45H424.10M420.30 322.56H424.10M434.38 298.35V317.47M432.48 298.35H436.28M432.48 317.47H436.28M446.56 293.25V312.37M444.66 293.25H448.46M444.66 312.37H448.46M458.74 293.25V312.37M456.84 293.25H460.64M456.84 312.37H460.64M470.92 292.19V311.31M469.02 292.19H472.82M469.02 311.31H472.82M483.10 292.61V311.73M481.20 292.61H485.00M481.20 311.73H485.00M495.28 302.60V321.71M493.38 302.60H497.18M493.38 321.71H497.18M507.46 316.40V335.52M505.56 316.40H509.36M505.56 335.52H509.36M519.64 337.43V356.55M517.74 337.43H521.54M517.74 356.55H521.54M531.82 354.85V370.14M529.92 354.85H533.72M529.92 370.14H533.72M544.00 368.23V384.80M542.10 368.23H545.90M542.10 384.80H545.90M556.18 383.73V400.30M554.28 383.73H558.08M554.28 400.30H558.08M568.36 400.09V414.11M566.46 400.09H570.26M566.46 414.11H570.26M580.54 409.01V417.51M578.64 409.01H582.44M578.64 417.51H582.44"/>
<path fill="none" stroke="#1a1a1a" stroke-width="0.9" d="M373.48 298.99V318.10M371.58 298.99H375.38M371.58 318.10H375.38M385.66 294.74V313.85M383.76 294.74H387.56M383.76 313.85H387.56M397.84 302.81V321.93M395.94 302.81H399.74M395.94 321.93H399.74M410.02 300.26V319.38M408.12 300.26H411.92M408.12 319.38H411.92M422.20 299.62V318.74M420.30 299.62H424.10M420.30 318.74H424.10M434.38 295.38V314.49M432.48 295.38H436.28M432.48 314.49H436.28M446.56 288.79V307.91M444.66 288.79H448.46M444.66 307.91H448.46M458.74 288.15V307.27M456.84 288.15H460.64M456.84 307.27H460.64M470.92 286.24V305.36M469.02 286.24H472.82M469.02 305.36H472.82M483.10 288.58V307.70M481.20 288.58H485.00M481.20 307.70H485.00M495.28 297.92V317.04M493.38 297.92H497.18M493.38 317.04H497.18M507.46 309.82V328.94M505.56 309.82H509.36M505.56 328.94H509.36M519.64 325.96V345.08M517.74 325.96H521.54M517.74 345.08H521.54M531.82 342.53V351.02M529.92 342.53H533.72M529.92 351.02H533.72M544.00 352.09V363.98M542.10 352.09H545.90M542.10 363.98H545.90M556.18 358.88V376.30M554.28 358.88H558.08M554.28 376.30H558.08M568.36 373.33V396.27M566.46 373.33H570.26M566.46 396.27H570.26M580.54 384.80V410.28M578.64 384.80H582.44M578.64 410.28H582.44M592.72 396.90V419.84M590.82 396.90H594.62M590.82 419.84H594.62M604.90 414.11V418.36M603.00 414.11H606.80M603.00 418.36H606.80"/>
<path fill="none" stroke="#1a1a1a" stroke-width="0.9" d="M373.48 296.23V310.24M371.58 296.23H375.38M371.58 310.24H375.38M385.66 288.15V304.30M383.76 288.15H387.56M383.76 304.30H387.56M397.84 297.92V314.92M395.94 297.92H399.74M395.94 314.92H399.74M410.02 295.80V310.67M408.12 295.80H411.92M408.12 310.67H411.92M422.20 292.61V313.85M420.30 292.61H424.10M420.30 313.85H424.10M434.38 286.67V310.03M432.48 286.67H436.28M432.48 310.03H436.28M446.56 278.38V306.00M444.66 278.38H448.46M444.66 306.00H448.46M458.74 277.32V307.06M456.84 277.32H460.64M456.84 307.06H460.64M470.92 280.51V301.75M469.02 280.51H472.82M469.02 301.75H472.82M483.10 283.69V304.08M481.20 283.69H485.00M481.20 304.08H485.00M495.28 291.13V312.37M493.38 291.13H497.18M493.38 312.37H497.18M507.46 302.81V321.93M505.56 302.81H509.36M505.56 321.93H509.36M519.64 316.40V334.25M517.74 316.40H521.54M517.74 334.25H521.54M531.82 330.00V338.49M529.92 330.00H533.72M529.92 338.49H533.72M544.00 335.52V345.29M542.10 335.52H545.90M542.10 345.29H545.90M556.18 344.65V352.30M554.28 344.65H558.08M554.28 352.30H558.08M568.36 357.82V366.32M566.46 357.82H570.26M566.46 366.32H570.26M580.54 369.50V381.40M578.64 369.50H582.44M578.64 381.40H582.44M592.72 382.04V395.63M590.82 382.04H594.62M590.82 395.63H594.62M604.90 395.20V407.52M603.00 395.20H606.80M603.00 407.52H606.80M617.08 401.15V417.72M615.18 401.15H618.98M615.18 417.72H618.98M629.26 412.20V416.44M627.36 412.20H631.16M627.36 416.44H631.16M641.44 418.14V421.54M639.54 418.14H643.34M639.54 421.54H643.34"/>
<circle cx="373.48" cy="319.59" r="3.30" fill="#fff" stroke="#1a1a1a" stroke-width="1.2"/>
<circle cx="385.66" cy="319.59" r="3.30" fill="#fff" stroke="#1a1a1a" stroke-width="1.2"/>
<circle cx="397.84" cy="322.78" r="3.30" fill="#fff" stroke="#1a1a1a" stroke-width="1.2"/>
<circle cx="410.02" cy="320.23" r="3.30" fill="#fff" stroke="#1a1a1a" stroke-width="1.2"/>
<circle cx="422.20" cy="317.47" r="3.30" fill="#fff" stroke="#1a1a1a" stroke-width="1.2"/>
<circle cx="434.38" cy="309.18" r="3.30" fill="#fff" stroke="#1a1a1a" stroke-width="1.2"/>
<circle cx="446.56" cy="304.30" r="3.30" fill="#fff" stroke="#1a1a1a" stroke-width="1.2"/>
<circle cx="458.74" cy="304.30" r="3.30" fill="#fff" stroke="#1a1a1a" stroke-width="1.2"/>
<circle cx="470.92" cy="304.30" r="3.30" fill="#fff" stroke="#1a1a1a" stroke-width="1.2"/>
<circle cx="483.10" cy="309.39" r="3.30" fill="#fff" stroke="#1a1a1a" stroke-width="1.2"/>
<circle cx="495.28" cy="322.78" r="3.30" fill="#fff" stroke="#1a1a1a" stroke-width="1.2"/>
<circle cx="507.46" cy="339.34" r="3.30" fill="#fff" stroke="#1a1a1a" stroke-width="1.2"/>
<circle cx="519.64" cy="362.92" r="3.30" fill="#fff" stroke="#1a1a1a" stroke-width="1.2"/>
<circle cx="531.82" cy="383.31" r="3.30" fill="#fff" stroke="#1a1a1a" stroke-width="1.2"/>
<circle cx="544.00" cy="401.36" r="3.30" fill="#fff" stroke="#1a1a1a" stroke-width="1.2"/>
<circle cx="556.18" cy="410.71" r="3.30" fill="#fff" stroke="#1a1a1a" stroke-width="1.2"/>
<circle cx="568.36" cy="418.78" r="3.30" fill="#fff" stroke="#1a1a1a" stroke-width="1.2"/>
<circle cx="580.54" cy="425.79" r="3.30" fill="#fff" stroke="#1a1a1a" stroke-width="1.2"/>
<rect x="370.53" y="311.12" width="5.90" height="5.90" fill="#fff" stroke="#1a1a1a" stroke-width="1.2"/>
<rect x="382.71" y="308.99" width="5.90" height="5.90" fill="#fff" stroke="#1a1a1a" stroke-width="1.2"/>
<rect x="394.89" y="313.24" width="5.90" height="5.90" fill="#fff" stroke="#1a1a1a" stroke-width="1.2"/>
<rect x="407.07" y="311.12" width="5.90" height="5.90" fill="#fff" stroke="#1a1a1a" stroke-width="1.2"/>
<rect x="419.25" y="310.06" width="5.90" height="5.90" fill="#fff" stroke="#1a1a1a" stroke-width="1.2"/>
<rect x="431.43" y="304.96" width="5.90" height="5.90" fill="#fff" stroke="#1a1a1a" stroke-width="1.2"/>
<rect x="443.61" y="299.86" width="5.90" height="5.90" fill="#fff" stroke="#1a1a1a" stroke-width="1.2"/>
<rect x="455.79" y="299.86" width="5.90" height="5.90" fill="#fff" stroke="#1a1a1a" stroke-width="1.2"/>
<rect x="467.97" y="298.80" width="5.90" height="5.90" fill="#fff" stroke="#1a1a1a" stroke-width="1.2"/>
<rect x="480.15" y="299.22" width="5.90" height="5.90" fill="#fff" stroke="#1a1a1a" stroke-width="1.2"/>
<rect x="492.33" y="309.21" width="5.90" height="5.90" fill="#fff" stroke="#1a1a1a" stroke-width="1.2"/>
<rect x="504.51" y="323.01" width="5.90" height="5.90" fill="#fff" stroke="#1a1a1a" stroke-width="1.2"/>
<rect x="516.69" y="344.04" width="5.90" height="5.90" fill="#fff" stroke="#1a1a1a" stroke-width="1.2"/>
<rect x="528.87" y="359.54" width="5.90" height="5.90" fill="#fff" stroke="#1a1a1a" stroke-width="1.2"/>
<rect x="541.05" y="373.56" width="5.90" height="5.90" fill="#fff" stroke="#1a1a1a" stroke-width="1.2"/>
<rect x="553.23" y="389.07" width="5.90" height="5.90" fill="#fff" stroke="#1a1a1a" stroke-width="1.2"/>
<rect x="565.41" y="404.15" width="5.90" height="5.90" fill="#fff" stroke="#1a1a1a" stroke-width="1.2"/>
<rect x="577.59" y="410.31" width="5.90" height="5.90" fill="#fff" stroke="#1a1a1a" stroke-width="1.2"/>
<path d="M373.48 305.04L376.56 308.54L373.48 312.04L370.40 308.54Z" fill="#fff" stroke="#1a1a1a" stroke-width="1.2"/>
<path d="M385.66 300.80L388.74 304.30L385.66 307.80L382.58 304.30Z" fill="#fff" stroke="#1a1a1a" stroke-width="1.2"/>
<path d="M397.84 308.87L400.92 312.37L397.84 315.87L394.76 312.37Z" fill="#fff" stroke="#1a1a1a" stroke-width="1.2"/>
<path d="M410.02 306.32L413.10 309.82L410.02 313.32L406.94 309.82Z" fill="#fff" stroke="#1a1a1a" stroke-width="1.2"/>
<path d="M422.20 305.68L425.28 309.18L422.20 312.68L419.12 309.18Z" fill="#fff" stroke="#1a1a1a" stroke-width="1.2"/>
<path d="M434.38 301.43L437.46 304.93L434.38 308.43L431.30 304.93Z" fill="#fff" stroke="#1a1a1a" stroke-width="1.2"/>
<path d="M446.56 294.85L449.64 298.35L446.56 301.85L443.48 298.35Z" fill="#fff" stroke="#1a1a1a" stroke-width="1.2"/>
<path d="M458.74 294.21L461.82 297.71L458.74 301.21L455.66 297.71Z" fill="#fff" stroke="#1a1a1a" stroke-width="1.2"/>
<path d="M470.92 292.30L474.00 295.80L470.92 299.30L467.84 295.80Z" fill="#fff" stroke="#1a1a1a" stroke-width="1.2"/>
<path d="M483.10 294.64L486.18 298.14L483.10 301.64L480.02 298.14Z" fill="#fff" stroke="#1a1a1a" stroke-width="1.2"/>
<path d="M495.28 303.98L498.36 307.48L495.28 310.98L492.20 307.48Z" fill="#fff" stroke="#1a1a1a" stroke-width="1.2"/>
<path d="M507.46 315.88L510.54 319.38L507.46 322.88L504.38 319.38Z" fill="#fff" stroke="#1a1a1a" stroke-width="1.2"/>
<path d="M519.64 332.02L522.72 335.52L519.64 339.02L516.56 335.52Z" fill="#fff" stroke="#1a1a1a" stroke-width="1.2"/>
<path d="M531.82 343.28L534.90 346.78L531.82 350.28L528.74 346.78Z" fill="#fff" stroke="#1a1a1a" stroke-width="1.2"/>
<path d="M544.00 354.53L547.08 358.03L544.00 361.53L540.92 358.03Z" fill="#fff" stroke="#1a1a1a" stroke-width="1.2"/>
<path d="M556.18 364.09L559.26 367.59L556.18 371.09L553.10 367.59Z" fill="#fff" stroke="#1a1a1a" stroke-width="1.2"/>
<path d="M568.36 381.30L571.44 384.80L568.36 388.30L565.28 384.80Z" fill="#fff" stroke="#1a1a1a" stroke-width="1.2"/>
<path d="M580.54 394.04L583.62 397.54L580.54 401.04L577.46 397.54Z" fill="#fff" stroke="#1a1a1a" stroke-width="1.2"/>
<path d="M592.72 404.87L595.80 408.37L592.72 411.87L589.64 408.37Z" fill="#fff" stroke="#1a1a1a" stroke-width="1.2"/>
<path d="M604.90 412.73L607.98 416.23L604.90 419.73L601.82 416.23Z" fill="#fff" stroke="#1a1a1a" stroke-width="1.2"/>
<path d="M373.48 300.33L376.48 305.53L370.48 305.53Z" fill="#fff" stroke="#1a1a1a" stroke-width="1.2"/>
<path d="M385.66 293.33L388.66 298.53L382.66 298.53Z" fill="#fff" stroke="#1a1a1a" stroke-width="1.2"/>
<path d="M397.84 303.52L400.84 308.72L394.84 308.72Z" fill="#fff" stroke="#1a1a1a" stroke-width="1.2"/>
<path d="M410.02 300.33L413.02 305.53L407.02 305.53Z" fill="#fff" stroke="#1a1a1a" stroke-width="1.2"/>
<path d="M422.20 300.33L425.20 305.53L419.20 305.53Z" fill="#fff" stroke="#1a1a1a" stroke-width="1.2"/>
<path d="M434.38 295.45L437.38 300.65L431.38 300.65Z" fill="#fff" stroke="#1a1a1a" stroke-width="1.2"/>
<path d="M446.56 289.29L449.56 294.49L443.56 294.49Z" fill="#fff" stroke="#1a1a1a" stroke-width="1.2"/>
<path d="M458.74 289.29L461.74 294.49L455.74 294.49Z" fill="#fff" stroke="#1a1a1a" stroke-width="1.2"/>
<path d="M470.92 288.23L473.92 293.43L467.92 293.43Z" fill="#fff" stroke="#1a1a1a" stroke-width="1.2"/>
<path d="M483.10 290.99L486.10 296.19L480.10 296.19Z" fill="#fff" stroke="#1a1a1a" stroke-width="1.2"/>
<path d="M495.28 298.85L498.28 304.05L492.28 304.05Z" fill="#fff" stroke="#1a1a1a" stroke-width="1.2"/>
<path d="M507.46 309.47L510.46 314.67L504.46 314.67Z" fill="#fff" stroke="#1a1a1a" stroke-width="1.2"/>
<path d="M519.64 322.42L522.64 327.62L516.64 327.62Z" fill="#fff" stroke="#1a1a1a" stroke-width="1.2"/>
<path d="M531.82 331.35L534.82 336.55L528.82 336.55Z" fill="#fff" stroke="#1a1a1a" stroke-width="1.2"/>
<path d="M544.00 337.50L547.00 342.70L541.00 342.70Z" fill="#fff" stroke="#1a1a1a" stroke-width="1.2"/>
<path d="M556.18 345.58L559.18 350.78L553.18 350.78Z" fill="#fff" stroke="#1a1a1a" stroke-width="1.2"/>
<path d="M568.36 359.17L571.36 364.37L565.36 364.37Z" fill="#fff" stroke="#1a1a1a" stroke-width="1.2"/>
<path d="M580.54 372.55L583.54 377.75L577.54 377.75Z" fill="#fff" stroke="#1a1a1a" stroke-width="1.2"/>
<path d="M592.72 385.93L595.72 391.13L589.72 391.13Z" fill="#fff" stroke="#1a1a1a" stroke-width="1.2"/>
<path d="M604.90 398.46L607.90 403.66L601.90 403.66Z" fill="#fff" stroke="#1a1a1a" stroke-width="1.2"/>
<path d="M617.08 406.53L620.08 411.73L614.08 411.73Z" fill="#fff" stroke="#1a1a1a" stroke-width="1.2"/>
<path d="M629.26 411.42L632.26 416.62L626.26 416.62Z" fill="#fff" stroke="#1a1a1a" stroke-width="1.2"/>
<path d="M641.44 416.94L644.44 422.14L638.44 422.14Z" fill="#fff" stroke="#1a1a1a" stroke-width="1.2"/>
<circle cx="373.48" cy="361.22" r="3.60" fill="#1a1a1a"/>
<circle cx="385.66" cy="361.22" r="3.60" fill="#1a1a1a"/>
<circle cx="397.84" cy="365.47" r="3.60" fill="#1a1a1a"/>
<circle cx="410.02" cy="365.47" r="3.60" fill="#1a1a1a"/>
<circle cx="422.20" cy="369.29" r="3.60" fill="#1a1a1a"/>
<circle cx="434.38" cy="375.66" r="3.60" fill="#1a1a1a"/>
<circle cx="446.56" cy="386.07" r="3.60" fill="#1a1a1a"/>
<circle cx="458.74" cy="396.90" r="3.60" fill="#1a1a1a"/>
<rect x="370.03" y="351.19" width="6.90" height="6.90" fill="#1a1a1a"/>
<rect x="382.21" y="350.12" width="6.90" height="6.90" fill="#1a1a1a"/>
<rect x="394.39" y="353.95" width="6.90" height="6.90" fill="#1a1a1a"/>
<rect x="406.57" y="352.88" width="6.90" height="6.90" fill="#1a1a1a"/>
<rect x="418.75" y="357.77" width="6.90" height="6.90" fill="#1a1a1a"/>
<rect x="430.93" y="360.53" width="6.90" height="6.90" fill="#1a1a1a"/>
<rect x="443.11" y="365.63" width="6.90" height="6.90" fill="#1a1a1a"/>
<rect x="455.29" y="373.28" width="6.90" height="6.90" fill="#1a1a1a"/>
<rect x="467.47" y="385.81" width="6.90" height="6.90" fill="#1a1a1a"/>
<rect x="479.65" y="397.28" width="6.90" height="6.90" fill="#1a1a1a"/>
<path d="M373.48 342.23L377.11 345.93L373.48 349.63L369.85 345.93Z" fill="#1a1a1a"/>
<path d="M385.66 341.59L389.29 345.29L385.66 348.99L382.03 345.29Z" fill="#1a1a1a"/>
<path d="M397.84 343.71L401.47 347.41L397.84 351.11L394.21 347.41Z" fill="#1a1a1a"/>
<path d="M410.02 340.95L413.65 344.65L410.02 348.35L406.39 344.65Z" fill="#1a1a1a"/>
<path d="M422.20 345.20L425.83 348.90L422.20 352.60L418.57 348.90Z" fill="#1a1a1a"/>
<path d="M434.38 348.17L438.01 351.87L434.38 355.57L430.75 351.87Z" fill="#1a1a1a"/>
<path d="M446.56 350.94L450.19 354.64L446.56 358.34L442.93 354.64Z" fill="#1a1a1a"/>
<path d="M458.74 355.61L462.37 359.31L458.74 363.01L455.11 359.31Z" fill="#1a1a1a"/>
<path d="M470.92 368.14L474.55 371.84L470.92 375.54L467.29 371.84Z" fill="#1a1a1a"/>
<path d="M483.10 379.61L486.73 383.31L483.10 387.01L479.47 383.31Z" fill="#1a1a1a"/>
<path d="M495.28 392.57L498.91 396.27L495.28 399.97L491.65 396.27Z" fill="#1a1a1a"/>
<path d="M507.46 403.40L511.09 407.10L507.46 410.80L503.83 407.10Z" fill="#1a1a1a"/>
<path d="M373.48 331.56L376.88 337.51L370.09 337.51Z" fill="#1a1a1a"/>
<path d="M385.66 332.19L389.06 338.14L382.27 338.14Z" fill="#1a1a1a"/>
<path d="M397.84 332.62L401.24 338.57L394.45 338.57Z" fill="#1a1a1a"/>
<path d="M410.02 329.01L413.41 334.96L406.62 334.96Z" fill="#1a1a1a"/>
<path d="M422.20 330.50L425.59 336.45L418.81 336.45Z" fill="#1a1a1a"/>
<path d="M434.38 329.43L437.77 335.38L430.99 335.38Z" fill="#1a1a1a"/>
<path d="M446.56 331.35L449.95 337.30L443.17 337.30Z" fill="#1a1a1a"/>
<path d="M458.74 339.63L462.13 345.58L455.35 345.58Z" fill="#1a1a1a"/>
<path d="M470.92 343.66L474.31 349.61L467.53 349.61Z" fill="#1a1a1a"/>
<path d="M483.10 348.76L486.50 354.71L479.71 354.71Z" fill="#1a1a1a"/>
<path d="M495.28 364.69L498.67 370.64L491.88 370.64Z" fill="#1a1a1a"/>
<path d="M507.46 384.44L510.86 390.39L504.07 390.39Z" fill="#1a1a1a"/>
<path d="M519.64 397.40L523.03 403.35L516.25 403.35Z" fill="#1a1a1a"/>
<path d="M531.82 408.87L535.21 414.82L528.42 414.82Z" fill="#1a1a1a"/>
<path d="M373.48 327.38L376.88 321.43L370.09 321.43Z" fill="#1a1a1a"/>
<path d="M385.66 328.65L389.06 322.70L382.27 322.70Z" fill="#1a1a1a"/>
<path d="M397.84 332.26L401.24 326.31L394.45 326.31Z" fill="#1a1a1a"/>
<path d="M410.02 329.07L413.41 323.12L406.62 323.12Z" fill="#1a1a1a"/>
<path d="M422.20 326.31L425.59 320.36L418.81 320.36Z" fill="#1a1a1a"/>
<path d="M434.38 317.39L437.77 311.44L430.99 311.44Z" fill="#1a1a1a"/>
<path d="M446.56 313.14L449.95 307.19L443.17 307.19Z" fill="#1a1a1a"/>
<path d="M458.74 313.57L462.13 307.62L455.35 307.62Z" fill="#1a1a1a"/>
<path d="M470.92 314.63L474.31 308.68L467.53 308.68Z" fill="#1a1a1a"/>
<path d="M483.10 319.94L486.50 313.99L479.71 313.99Z" fill="#1a1a1a"/>
<path d="M495.28 336.93L498.67 330.98L491.88 330.98Z" fill="#1a1a1a"/>
<path d="M507.46 354.35L510.86 348.40L504.07 348.40Z" fill="#1a1a1a"/>
<path d="M519.64 375.80L523.03 369.85L516.25 369.85Z" fill="#1a1a1a"/>
<path d="M531.82 397.04L535.21 391.09L528.42 391.09Z" fill="#1a1a1a"/>
<path d="M544.00 410.00L547.39 404.05L540.61 404.05Z" fill="#1a1a1a"/>
<path d="M556.18 421.04L559.58 415.09L552.79 415.09Z" fill="#1a1a1a"/>
</g>
<g stroke="#585858" stroke-width="1.4" fill="none">
<rect x="56.70" y="32.00" width="609.10" height="424.80"/>
<path stroke="#111" stroke-width="1.15" d="M56.70 244.40H665.80"/>
<path stroke="#1c1c1c" stroke-width="1.3" d="M361.35 32.00V456.80"/>
<path stroke="#222" stroke-width="0.95" d="M117.60 32.00v5.4M117.60 456.80v-5.4M178.50 32.00v5.4M178.50 456.80v-5.4M239.40 32.00v5.4M239.40 456.80v-5.4M300.30 32.00v5.4M300.30 456.80v-5.4M422.20 32.00v5.4M422.20 456.80v-5.4M483.10 32.00v5.4M483.10 456.80v-5.4M544.00 32.00v5.4M544.00 456.80v-5.4M604.90 32.00v5.4M604.90 456.80v-5.4M56.70 209.00h5.4M665.80 209.00h-5.4M56.70 173.60h5.4M665.80 173.60h-5.4M56.70 138.20h5.4M665.80 138.20h-5.4M56.70 102.80h5.4M665.80 102.80h-5.4M56.70 67.40h5.4M665.80 67.40h-5.4M56.70 414.32h5.4M665.80 414.32h-5.4M56.70 371.84h5.4M665.80 371.84h-5.4M56.70 329.36h5.4M665.80 329.36h-5.4M56.70 286.88h5.4M665.80 286.88h-5.4"/>
<path stroke="#1c1c1c" stroke-width="1.15" d="M117.60 239.00v10.8M178.50 239.00v10.8M239.40 239.00v10.8M300.30 239.00v10.8M422.20 239.00v10.8M483.10 239.00v10.8M544.00 239.00v10.8M604.90 239.00v10.8M355.90 209.00h10.8M355.90 173.60h10.8M355.90 138.20h10.8M355.90 102.80h10.8M355.90 67.40h10.8M355.90 414.32h10.8M355.90 371.84h10.8M355.90 329.36h10.8M355.90 286.88h10.8"/>
</g>
<g font-family="Liberation Sans, sans-serif" font-size="15.6" fill="#1a1a1a" stroke="#1a1a1a" stroke-width="0.2">
<text x="50.9" y="36.7" text-anchor="end">120</text>
<text x="50.9" y="73.1" text-anchor="end">100</text>
<text x="50.9" y="108.5" text-anchor="end">80</text>
<text x="50.9" y="145.2" text-anchor="end">60</text>
<text x="50.9" y="181.5" text-anchor="end">40</text>
<text x="50.9" y="217.3" text-anchor="end">20</text>
<text x="50.9" y="252.0" text-anchor="end">0</text>
<text x="50.9" y="292.7" text-anchor="end">8</text>
<text x="50.9" y="337.6" text-anchor="end">6</text>
<text x="50.9" y="379.0" text-anchor="end">4</text>
<text x="50.9" y="421.0" text-anchor="end">2</text>
<text x="50.9" y="462.6" text-anchor="end">0</text>
<text x="56.8" y="475.1" text-anchor="middle">0</text>
<text x="117.7" y="475.1" text-anchor="middle">5</text>
<text x="178.6" y="475.1" text-anchor="middle">10</text>
<text x="239.5" y="475.1" text-anchor="middle">15</text>
<text x="300.4" y="475.1" text-anchor="middle">20</text>
<text x="361.4" y="475.1" text-anchor="middle">0</text>
<text x="422.3" y="475.1" text-anchor="middle">5</text>
<text x="483.2" y="475.1" text-anchor="middle">10</text>
<text x="544.1" y="475.1" text-anchor="middle">15</text>
<text x="605.0" y="475.1" text-anchor="middle">20</text>
<text x="665.9" y="475.1" text-anchor="middle">25</text>
<text x="212.0" y="496.9" text-anchor="middle" textLength="127" lengthAdjust="spacingAndGlyphs">Metamer number</text>
<text x="513.2" y="496.9" text-anchor="middle" textLength="126.4" lengthAdjust="spacingAndGlyphs">Metamer number</text>
<text x="209" y="14.3" text-anchor="middle" textLength="61" lengthAdjust="spacingAndGlyphs">S-plants</text>
<text x="514" y="14.3" text-anchor="middle" textLength="61.2" lengthAdjust="spacingAndGlyphs">D-plants</text>
<text transform="translate(14.2,138.4) rotate(-90)" text-anchor="middle" textLength="93.6" lengthAdjust="spacingAndGlyphs">Length (mm)</text>
<text transform="translate(14.1,350.6) rotate(-90)" text-anchor="middle" textLength="111" lengthAdjust="spacingAndGlyphs">Diameter (mm)</text>
<text x="313.3" y="59.1" textLength="33.0" lengthAdjust="spacingAndGlyphs">28 d</text>
<text x="313.3" y="74.0" textLength="33.0" lengthAdjust="spacingAndGlyphs">34 d</text>
<text x="313.3" y="89.0" textLength="33.0" lengthAdjust="spacingAndGlyphs">41 d</text>
<text x="313.3" y="103.9" textLength="33.0" lengthAdjust="spacingAndGlyphs">48 d</text>
<text x="313.3" y="118.8" textLength="33.0" lengthAdjust="spacingAndGlyphs">56 d</text>
<text x="313.3" y="133.8" textLength="33.0" lengthAdjust="spacingAndGlyphs">62 d</text>
<text x="313.3" y="148.7" textLength="33.0" lengthAdjust="spacingAndGlyphs">69 d</text>
<text x="313.3" y="163.6" textLength="33.0" lengthAdjust="spacingAndGlyphs">76 d</text>
<text x="313.3" y="178.5" textLength="33.0" lengthAdjust="spacingAndGlyphs">84 d</text>
</g>
<circle cx="301.70" cy="53.90" r="3.95" fill="#1a1a1a"/>
<rect x="298.10" y="65.23" width="7.20" height="7.20" fill="#1a1a1a"/>
<path d="M301.70 78.46L306.89 83.76L301.70 89.06L296.51 83.76Z" fill="#1a1a1a"/>
<path d="M301.70 94.80L305.68 101.77L297.72 101.77Z" fill="#1a1a1a"/>
<path d="M301.70 117.52L305.68 110.55L297.72 110.55Z" fill="#1a1a1a"/>
<circle cx="301.70" cy="128.55" r="3.50" fill="#fff" stroke="#1a1a1a" stroke-width="1.1"/>
<rect x="298.40" y="140.18" width="6.60" height="6.60" fill="#fff" stroke="#1a1a1a" stroke-width="1.1"/>
<path d="M301.70 154.71L304.96 158.41L301.70 162.11L298.44 158.41Z" fill="#fff" stroke="#1a1a1a" stroke-width="1.1"/>
<path d="M301.70 169.84L305.00 176.14L298.40 176.14Z" fill="#fff" stroke="#1a1a1a" stroke-width="1.1"/>
<g font-family="Liberation Sans, sans-serif" font-size="22" fill="#1a1a1a" stroke="#1a1a1a" stroke-width="0.15">
<text x="75.0" y="61.8" textLength="13.3" lengthAdjust="spacingAndGlyphs">A</text><text x="379.1" y="61.5" textLength="13.7" lengthAdjust="spacingAndGlyphs">B</text><text x="73.7" y="269.1" textLength="14.8" lengthAdjust="spacingAndGlyphs">C</text><text x="378.8" y="269.0" textLength="14.7" lengthAdjust="spacingAndGlyphs">D</text>
</g>
</svg>
</body></html>
